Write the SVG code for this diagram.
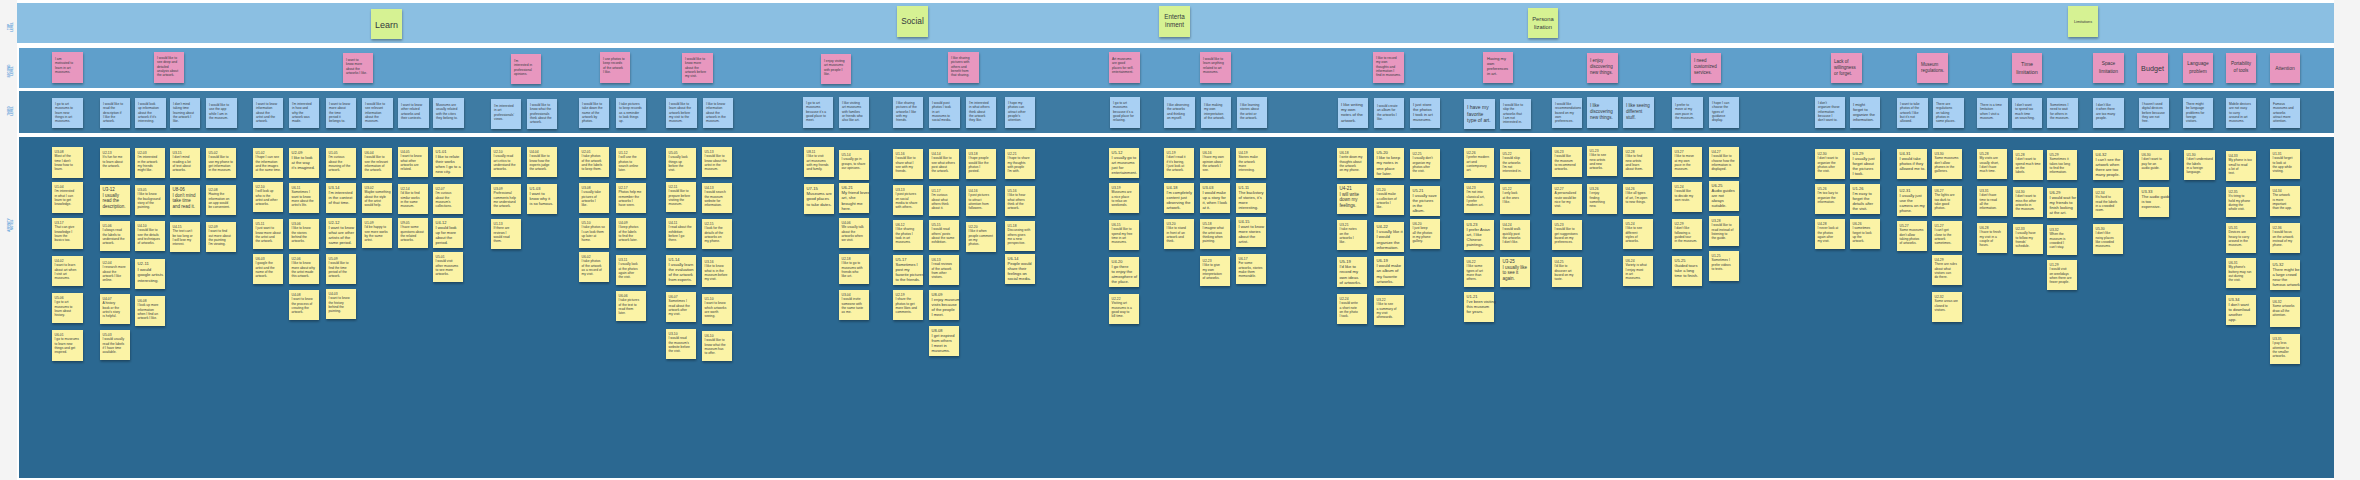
<svg xmlns="http://www.w3.org/2000/svg" width="2360" height="480" viewBox="0 0 2360 480">
<defs>
<filter id="sh" x="-15%" y="-15%" width="140%" height="150%"><feDropShadow dx="0.4" dy="1.6" stdDeviation="0.8" flood-color="#000" flood-opacity="0.35"/></filter>
<style>
.g,.p,.b,.y{filter:url(#sh)}
.g{fill:#d6f293}.p{fill:#e897bf}.b{fill:#a9d0f3}.y{fill:#fbf3a6}
text{font-family:"Liberation Sans",Arial,sans-serif;fill:#33383d}
.t{font-size:3.3px}
.m{font-size:4.5px}
.c{text-anchor:middle}
.lb{font-size:3px;fill:#5fa3da;font-weight:bold;text-anchor:middle}
</style>
</defs>
<rect width="2360" height="480" fill="#f4f4f4"/>
<rect x="17" y="0" width="2317" height="480" fill="#ffffff"/>
<g id="bands">
<rect x="17" y="3" width="2317" height="40" fill="#8bbfe2"/>
<rect x="19" y="48" width="2315" height="40" fill="#5f9fcb"/>
<rect x="19" y="91" width="2315" height="42" fill="#3e7ba3"/>
<rect x="19" y="137" width="2315" height="341" fill="#2b6891"/>
</g>
<g id="labels">
<text class="lb" transform="translate(9.5 27) rotate(-90)"><tspan x="0" y="0">TOP</tspan><tspan x="0" dy="3.4">LEVEL</tspan></text>
<text class="lb" transform="translate(9.5 71) rotate(-90)"><tspan x="0" y="0">SECOND</tspan><tspan x="0" dy="3.4">LEVEL</tspan></text>
<text class="lb" transform="translate(9.5 111) rotate(-90)"><tspan x="0" y="0">THIRD</tspan><tspan x="0" dy="3.4">LEVEL</tspan></text>
<text class="lb" transform="translate(9.5 225) rotate(-90)"><tspan x="0" y="0">AFFINITY</tspan><tspan x="0" dy="3.4">NOTES</tspan></text>
</g>
<g id="connectors"></g>

<!-- TOP LEVEL -->
<g id="top-learn" transform="translate(371 9)"><rect class="g" width="31" height="30"/><text class="c" x="15.5" y="18.5" font-size="9">Learn</text></g>
<g id="top-social" transform="translate(897 6)"><rect class="g" width="31" height="31"/><text class="c" x="15.5" y="18" font-size="8.3">Social</text></g>
<g id="top-entertainment" transform="translate(1159 6)"><rect class="g" width="31" height="31"/><text class="c" font-size="6.3"><tspan x="15.5" y="12.5">Enterta</tspan><tspan x="15.5" dy="8">inment</tspan></text></g>
<g id="top-personalization" transform="translate(1528 8)"><rect class="g" width="30" height="30"/><text class="c" font-size="5.8"><tspan x="15" y="13">Persona</tspan><tspan x="15" dy="8">lization</tspan></text></g>
<g id="top-limitations" transform="translate(2068 6)"><rect class="g" width="30" height="31"/><text class="c" x="15" y="16.5" font-size="3.8">Limitations</text></g>

<!-- SECOND LEVEL -->
<g id="p52" transform="translate(52 52)"><rect class="p" width="31" height="31"/><text class="t"><tspan x="3" y="8">I am</tspan><tspan x="3" dy="4.3">motivated to</tspan><tspan x="3" dy="4.3">learn in art</tspan><tspan x="3" dy="4.3">museums.</tspan></text></g>
<g id="p154" transform="translate(154 52)"><rect class="p" width="30" height="31"/><text class="t"><tspan x="3" y="7">I would like to</tspan><tspan x="3" dy="4.3">see deep and</tspan><tspan x="3" dy="4.3">detailed</tspan><tspan x="3" dy="4.3">analysis about</tspan><tspan x="3" dy="4.3">the artwork.</tspan></text></g>
<g id="p343" transform="translate(343 53)"><rect class="p" width="30" height="30"/><text class="t"><tspan x="3" y="8">I want to</tspan><tspan x="3" dy="4.3">know more</tspan><tspan x="3" dy="4.3">about the</tspan><tspan x="3" dy="4.3">artworks I like.</tspan></text></g>
<g id="p511" transform="translate(511 54)"><rect class="p" width="30" height="30"/><text class="t"><tspan x="3" y="8">I'm</tspan><tspan x="3" dy="4.3">interested in</tspan><tspan x="3" dy="4.3">professional</tspan><tspan x="3" dy="4.3">opinions.</tspan></text></g>
<g id="p600" transform="translate(600 52)"><rect class="p" width="30" height="31"/><text class="t"><tspan x="3" y="8">I use photos to</tspan><tspan x="3" dy="4.3">keep records</tspan><tspan x="3" dy="4.3">of the artwork</tspan><tspan x="3" dy="4.3">I like.</tspan></text></g>
<g id="p682" transform="translate(682 53)"><rect class="p" width="31" height="30"/><text class="t"><tspan x="3" y="7">I would like to</tspan><tspan x="3" dy="4.3">know more</tspan><tspan x="3" dy="4.3">about the</tspan><tspan x="3" dy="4.3">artwork before</tspan><tspan x="3" dy="4.3">my visit.</tspan></text></g>
<g id="p821" transform="translate(821 54)"><rect class="p" width="30" height="30"/><text class="t"><tspan x="3" y="8">I enjoy visiting</tspan><tspan x="3" dy="4.3">art museums</tspan><tspan x="3" dy="4.3">with people I</tspan><tspan x="3" dy="4.3">like.</tspan></text></g>
<g id="p948" transform="translate(948 52)"><rect class="p" width="31" height="31"/><text class="t"><tspan x="3" y="7">I like sharing</tspan><tspan x="3" dy="4.3">pictures with</tspan><tspan x="3" dy="4.3">others and</tspan><tspan x="3" dy="4.3">benefit from</tspan><tspan x="3" dy="4.3">that sharing.</tspan></text></g>
<g id="p1109" transform="translate(1109 52)"><rect class="p" width="31" height="31"/><text class="t"><tspan x="3" y="8">Art museums</tspan><tspan x="3" dy="4.3">are good</tspan><tspan x="3" dy="4.3">places for self-</tspan><tspan x="3" dy="4.3">entertainment.</tspan></text></g>
<g id="p1200" transform="translate(1200 52)"><rect class="p" width="31" height="31"/><text class="t"><tspan x="3" y="8">I would like to</tspan><tspan x="3" dy="4.3">learn anything</tspan><tspan x="3" dy="4.3">related to art</tspan><tspan x="3" dy="4.3">museums.</tspan></text></g>
<g id="p1373" transform="translate(1373 52)"><rect class="p" width="31" height="31"/><text class="t"><tspan x="3" y="7">I like to record</tspan><tspan x="3" dy="4.3">my own</tspan><tspan x="3" dy="4.3">thoughts and</tspan><tspan x="3" dy="4.3">information I</tspan><tspan x="3" dy="4.3">find in museums.</tspan></text></g>
<g id="p1483" transform="translate(1483 52)"><rect class="p" width="30" height="31"/><text font-size="4"><tspan x="4" y="8">Having my</tspan><tspan x="4" dy="5">own</tspan><tspan x="4" dy="5">preferences</tspan><tspan x="4" dy="5">in art.</tspan></text></g>
<g id="p1587" transform="translate(1587 53)"><rect class="p" width="31" height="30"/><text class="m"><tspan x="3" y="9">I enjoy</tspan><tspan x="3" dy="6">discovering</tspan><tspan x="3" dy="6">new things.</tspan></text></g>
<g id="p1691" transform="translate(1691 53)"><rect class="p" width="30" height="30"/><text class="m"><tspan x="3" y="9">I need</tspan><tspan x="3" dy="6">customized</tspan><tspan x="3" dy="6">services.</tspan></text></g>
<g id="p1831" transform="translate(1831 53)"><rect class="p" width="31" height="30"/><text class="m"><tspan x="3" y="10">Lack of</tspan><tspan x="3" dy="6">willingness</tspan><tspan x="3" dy="6">or forget.</tspan></text></g>
<g id="p1917" transform="translate(1917 53)"><rect class="p" width="31" height="30"/><text class="m"><tspan x="4" y="13">Museum</tspan><tspan x="4" dy="6">regulations.</tspan></text></g>
<g id="p2012" transform="translate(2012 53)"><rect class="p" width="30" height="30"/><text class="c" font-size="5.4"><tspan x="15" y="13">Time</tspan><tspan x="15" dy="7.5">limitation</tspan></text></g>
<g id="p2093" transform="translate(2093 53)"><rect class="p" width="31" height="30"/><text class="c" font-size="4.8"><tspan x="15.5" y="12">Space</tspan><tspan x="15.5" dy="7.5">limitation</tspan></text></g>
<g id="p2137" transform="translate(2137 53)"><rect class="p" width="31" height="30"/><text class="c" x="15.5" y="18" font-size="7.2">Budget</text></g>
<g id="p2183" transform="translate(2183 53)"><rect class="p" width="30" height="30"/><text class="c" font-size="4.8"><tspan x="15" y="12">Language</tspan><tspan x="15" dy="7.5">problem</tspan></text></g>
<g id="p2226" transform="translate(2226 53)"><rect class="p" width="30" height="30"/><text class="c" font-size="4.6"><tspan x="15" y="12">Portability</tspan><tspan x="15" dy="7">of tools</tspan></text></g>
<g id="p2270" transform="translate(2270 53)"><rect class="p" width="30" height="30"/><text class="c" x="15" y="17" font-size="4.9">Attention</text></g>

<!-- THIRD LEVEL -->
<g id="b52" transform="translate(52 98)"><rect class="b" width="31" height="30"/><text class="t"><tspan x="3" y="7">I go to art</tspan><tspan x="3" dy="4.3">museums to</tspan><tspan x="3" dy="4.3">learn new</tspan><tspan x="3" dy="4.3">things in art</tspan><tspan x="3" dy="4.3">museums.</tspan></text></g>
<g id="b100" transform="translate(100 98)"><rect class="b" width="30" height="30"/><text class="t"><tspan x="3" y="7">I would like to</tspan><tspan x="3" dy="4.3">read the</tspan><tspan x="3" dy="4.3">description if</tspan><tspan x="3" dy="4.3">I like the</tspan><tspan x="3" dy="4.3">artwork.</tspan></text></g>
<g id="b135" transform="translate(135 98)"><rect class="b" width="31" height="30"/><text class="t"><tspan x="3" y="7">I would look</tspan><tspan x="3" dy="4.3">up information</tspan><tspan x="3" dy="4.3">about the</tspan><tspan x="3" dy="4.3">artwork if it's</tspan><tspan x="3" dy="4.3">interesting.</tspan></text></g>
<g id="b170" transform="translate(170 98)"><rect class="b" width="30" height="30"/><text class="t"><tspan x="3" y="7">I don't mind</tspan><tspan x="3" dy="4.3">taking time</tspan><tspan x="3" dy="4.3">learning about</tspan><tspan x="3" dy="4.3">the artwork I</tspan><tspan x="3" dy="4.3">like.</tspan></text></g>
<g id="b206" transform="translate(206 98)"><rect class="b" width="31" height="30"/><text class="t"><tspan x="3" y="8">I would like to</tspan><tspan x="3" dy="4.3">use the app</tspan><tspan x="3" dy="4.3">while I am in</tspan><tspan x="3" dy="4.3">the museum.</tspan></text></g>
<g id="b253" transform="translate(253 98)"><rect class="b" width="30" height="30"/><text class="t"><tspan x="3" y="7">I want to know</tspan><tspan x="3" dy="4.3">information</tspan><tspan x="3" dy="4.3">about the</tspan><tspan x="3" dy="4.3">artist and the</tspan><tspan x="3" dy="4.3">artwork.</tspan></text></g>
<g id="b289" transform="translate(289 98)"><rect class="b" width="30" height="30"/><text class="t"><tspan x="3" y="7">I'm interested</tspan><tspan x="3" dy="4.3">in how and</tspan><tspan x="3" dy="4.3">why the</tspan><tspan x="3" dy="4.3">artwork was</tspan><tspan x="3" dy="4.3">made.</tspan></text></g>
<g id="b326" transform="translate(326 98)"><rect class="b" width="30" height="30"/><text class="t"><tspan x="3" y="7">I want to know</tspan><tspan x="3" dy="4.3">more about</tspan><tspan x="3" dy="4.3">the time</tspan><tspan x="3" dy="4.3">period it</tspan><tspan x="3" dy="4.3">belongs to.</tspan></text></g>
<g id="b362" transform="translate(362 98)"><rect class="b" width="31" height="30"/><text class="t"><tspan x="3" y="7">I would like to</tspan><tspan x="3" dy="4.3">see relevant</tspan><tspan x="3" dy="4.3">information</tspan><tspan x="3" dy="4.3">about the</tspan><tspan x="3" dy="4.3">museum.</tspan></text></g>
<g id="b398" transform="translate(398 98)"><rect class="b" width="31" height="30"/><text class="t"><tspan x="3" y="8">I want to know</tspan><tspan x="3" dy="4.3">other related</tspan><tspan x="3" dy="4.3">artworks and</tspan><tspan x="3" dy="4.3">their contexts.</tspan></text></g>
<g id="b433" transform="translate(433 98)"><rect class="b" width="31" height="30"/><text class="t"><tspan x="3" y="8">Museums are</tspan><tspan x="3" dy="4.3">usually related</tspan><tspan x="3" dy="4.3">with the cities</tspan><tspan x="3" dy="4.3">they belong to.</tspan></text></g>
<g id="b491" transform="translate(491 99)"><rect class="b" width="30" height="30"/><text class="t"><tspan x="3" y="8">I'm interested</tspan><tspan x="3" dy="4.3">in art</tspan><tspan x="3" dy="4.3">professionals'</tspan><tspan x="3" dy="4.3">views.</tspan></text></g>
<g id="b527" transform="translate(527 99)"><rect class="b" width="30" height="30"/><text class="t"><tspan x="3" y="7">I would like to</tspan><tspan x="3" dy="4.3">know what the</tspan><tspan x="3" dy="4.3">professionals</tspan><tspan x="3" dy="4.3">think about the</tspan><tspan x="3" dy="4.3">artwork.</tspan></text></g>
<g id="b579" transform="translate(579 98)"><rect class="b" width="30" height="30"/><text class="t"><tspan x="3" y="7">I would like to</tspan><tspan x="3" dy="4.3">take down the</tspan><tspan x="3" dy="4.3">name of the</tspan><tspan x="3" dy="4.3">artwork by</tspan><tspan x="3" dy="4.3">photos.</tspan></text></g>
<g id="b616" transform="translate(616 98)"><rect class="b" width="30" height="30"/><text class="t"><tspan x="3" y="7">I take pictures</tspan><tspan x="3" dy="4.3">to keep records</tspan><tspan x="3" dy="4.3">as a reminder</tspan><tspan x="3" dy="4.3">to look things</tspan><tspan x="3" dy="4.3">up.</tspan></text></g>
<g id="b666" transform="translate(666 98)"><rect class="b" width="31" height="30"/><text class="t"><tspan x="3" y="7">I would like to</tspan><tspan x="3" dy="4.3">learn about the</tspan><tspan x="3" dy="4.3">artwork before</tspan><tspan x="3" dy="4.3">my visit to the</tspan><tspan x="3" dy="4.3">museum.</tspan></text></g>
<g id="b703" transform="translate(703 98)"><rect class="b" width="30" height="30"/><text class="t"><tspan x="3" y="7">I like to know</tspan><tspan x="3" dy="4.3">information</tspan><tspan x="3" dy="4.3">about the</tspan><tspan x="3" dy="4.3">artwork in the</tspan><tspan x="3" dy="4.3">museum.</tspan></text></g>
<g id="b803" transform="translate(803 97)"><rect class="b" width="30" height="31"/><text class="t"><tspan x="3" y="7">I go to art</tspan><tspan x="3" dy="4.3">museums</tspan><tspan x="3" dy="4.3">because it's a</tspan><tspan x="3" dy="4.3">good place to</tspan><tspan x="3" dy="4.3">meet.</tspan></text></g>
<g id="b839" transform="translate(839 97)"><rect class="b" width="30" height="31"/><text class="t"><tspan x="3" y="7">I like visiting</tspan><tspan x="3" dy="4.3">art museums</tspan><tspan x="3" dy="4.3">with families</tspan><tspan x="3" dy="4.3">or friends who</tspan><tspan x="3" dy="4.3">also like art.</tspan></text></g>
<g id="b893" transform="translate(893 97)"><rect class="b" width="30" height="31"/><text class="t"><tspan x="3" y="7">I like sharing</tspan><tspan x="3" dy="4.3">pictures of the</tspan><tspan x="3" dy="4.3">artworks I like</tspan><tspan x="3" dy="4.3">with my</tspan><tspan x="3" dy="4.3">friends.</tspan></text></g>
<g id="b929" transform="translate(929 97)"><rect class="b" width="31" height="31"/><text class="t"><tspan x="3" y="7">I would post</tspan><tspan x="3" dy="4.3">photos I took</tspan><tspan x="3" dy="4.3">in art</tspan><tspan x="3" dy="4.3">museums to</tspan><tspan x="3" dy="4.3">social media.</tspan></text></g>
<g id="b966" transform="translate(966 97)"><rect class="b" width="30" height="31"/><text class="t"><tspan x="3" y="7">I'm interested</tspan><tspan x="3" dy="4.3">in what others</tspan><tspan x="3" dy="4.3">think about</tspan><tspan x="3" dy="4.3">the artwork</tspan><tspan x="3" dy="4.3">they like.</tspan></text></g>
<g id="b1005" transform="translate(1005 97)"><rect class="b" width="30" height="31"/><text class="t"><tspan x="3" y="7">I hope my</tspan><tspan x="3" dy="4.3">photos can</tspan><tspan x="3" dy="4.3">attract other</tspan><tspan x="3" dy="4.3">people's</tspan><tspan x="3" dy="4.3">attention.</tspan></text></g>
<g id="b1110" transform="translate(1110 97)"><rect class="b" width="30" height="31"/><text class="t"><tspan x="3" y="7">I go to art</tspan><tspan x="3" dy="4.3">museums</tspan><tspan x="3" dy="4.3">because it's a</tspan><tspan x="3" dy="4.3">good place for</tspan><tspan x="3" dy="4.3">relaxing.</tspan></text></g>
<g id="b1164" transform="translate(1164 97)"><rect class="b" width="31" height="31"/><text class="t"><tspan x="3" y="9">I like observing</tspan><tspan x="3" dy="4.3">the artworks</tspan><tspan x="3" dy="4.3">and thinking</tspan><tspan x="3" dy="4.3">on myself.</tspan></text></g>
<g id="b1201" transform="translate(1201 97)"><rect class="b" width="30" height="31"/><text class="t"><tspan x="3" y="9">I like making</tspan><tspan x="3" dy="4.3">my own</tspan><tspan x="3" dy="4.3">interpretation</tspan><tspan x="3" dy="4.3">of the artwork.</tspan></text></g>
<g id="b1237" transform="translate(1237 97)"><rect class="b" width="30" height="31"/><text class="t"><tspan x="3" y="9">I like learning</tspan><tspan x="3" dy="4.3">stories about</tspan><tspan x="3" dy="4.3">the artist or</tspan><tspan x="3" dy="4.3">the artwork.</tspan></text></g>
<g id="b1338" transform="translate(1338 98)"><rect class="b" width="30" height="30"/><text font-size="4.2"><tspan x="3" y="8">I like writing</tspan><tspan x="3" dy="5.2">my own</tspan><tspan x="3" dy="5.2">notes of the</tspan><tspan x="3" dy="5.2">artwork.</tspan></text></g>
<g id="b1374" transform="translate(1374 98)"><rect class="b" width="30" height="30"/><text class="t"><tspan x="3" y="9">I would create</tspan><tspan x="3" dy="4.3">an album for</tspan><tspan x="3" dy="4.3">the artworks I</tspan><tspan x="3" dy="4.3">like.</tspan></text></g>
<g id="b1410" transform="translate(1410 98)"><rect class="b" width="30" height="30"/><text font-size="4"><tspan x="3" y="8">I just store</tspan><tspan x="3" dy="5">the photos</tspan><tspan x="3" dy="5">I took in art</tspan><tspan x="3" dy="5">museums.</tspan></text></g>
<g id="b1464" transform="translate(1464 99)"><rect class="b" width="31" height="30"/><text font-size="5"><tspan x="3" y="10">I have my</tspan><tspan x="3" dy="6.5">favorite</tspan><tspan x="3" dy="6.5">type of art.</tspan></text></g>
<g id="b1500" transform="translate(1500 99)"><rect class="b" width="31" height="30"/><text class="t"><tspan x="3" y="7">I would like to</tspan><tspan x="3" dy="4.3">skip the</tspan><tspan x="3" dy="4.3">artworks that</tspan><tspan x="3" dy="4.3">I am not</tspan><tspan x="3" dy="4.3">interested in.</tspan></text></g>
<g id="b1552" transform="translate(1552 98)"><rect class="b" width="30" height="30"/><text class="t"><tspan x="3" y="7">I would like</tspan><tspan x="3" dy="4.3">recommendations</tspan><tspan x="3" dy="4.3">based on my</tspan><tspan x="3" dy="4.3">own</tspan><tspan x="3" dy="4.3">preferences.</tspan></text></g>
<g id="b1587" transform="translate(1587 97)"><rect class="b" width="31" height="31"/><text class="m"><tspan x="3" y="10">I like</tspan><tspan x="3" dy="6">discovering</tspan><tspan x="3" dy="6">new things.</tspan></text></g>
<g id="b1623" transform="translate(1623 97)"><rect class="b" width="31" height="31"/><text class="m"><tspan x="3" y="10">I like seeing</tspan><tspan x="3" dy="6">different</tspan><tspan x="3" dy="6">stuff.</tspan></text></g>
<g id="b1672" transform="translate(1672 97)"><rect class="b" width="31" height="31"/><text class="t"><tspan x="3" y="9">I prefer to</tspan><tspan x="3" dy="4.3">move at my</tspan><tspan x="3" dy="4.3">own pace in</tspan><tspan x="3" dy="4.3">the museum.</tspan></text></g>
<g id="b1709" transform="translate(1709 97)"><rect class="b" width="30" height="31"/><text class="t"><tspan x="3" y="7">I hope I can</tspan><tspan x="3" dy="4.3">choose the</tspan><tspan x="3" dy="4.3">types of</tspan><tspan x="3" dy="4.3">guidance</tspan><tspan x="3" dy="4.3">display.</tspan></text></g>
<g id="b1815" transform="translate(1815 97)"><rect class="b" width="30" height="31"/><text class="t"><tspan x="3" y="7">I don't</tspan><tspan x="3" dy="4.3">organize those</tspan><tspan x="3" dy="4.3">information</tspan><tspan x="3" dy="4.3">because I</tspan><tspan x="3" dy="4.3">don't want to.</tspan></text></g>
<g id="b1850" transform="translate(1850 97)"><rect class="b" width="30" height="31"/><text font-size="4"><tspan x="3" y="9">I might</tspan><tspan x="3" dy="5">forget to</tspan><tspan x="3" dy="5">organize the</tspan><tspan x="3" dy="5">information.</tspan></text></g>
<g id="b1897" transform="translate(1897 98)"><rect class="b" width="31" height="30"/><text class="t"><tspan x="3" y="7">I want to take</tspan><tspan x="3" dy="4.3">photos of the</tspan><tspan x="3" dy="4.3">artwork I like</tspan><tspan x="3" dy="4.3">but it's not</tspan><tspan x="3" dy="4.3">allowed.</tspan></text></g>
<g id="b1933" transform="translate(1933 98)"><rect class="b" width="31" height="30"/><text class="t"><tspan x="3" y="7">There are</tspan><tspan x="3" dy="4.3">regulations</tspan><tspan x="3" dy="4.3">on taking</tspan><tspan x="3" dy="4.3">photos in</tspan><tspan x="3" dy="4.3">some places.</tspan></text></g>
<g id="b1977" transform="translate(1977 98)"><rect class="b" width="31" height="30"/><text class="t"><tspan x="3" y="8">There is a time</tspan><tspan x="3" dy="4.3">limitation</tspan><tspan x="3" dy="4.3">when I visit a</tspan><tspan x="3" dy="4.3">museum.</tspan></text></g>
<g id="b2012" transform="translate(2012 98)"><rect class="b" width="30" height="30"/><text class="t"><tspan x="3" y="8">I don't want</tspan><tspan x="3" dy="4.3">to spend too</tspan><tspan x="3" dy="4.3">much time</tspan><tspan x="3" dy="4.3">on searching.</tspan></text></g>
<g id="b2047" transform="translate(2047 98)"><rect class="b" width="31" height="30"/><text class="t"><tspan x="3" y="8">Sometimes I</tspan><tspan x="3" dy="4.3">need to wait</tspan><tspan x="3" dy="4.3">for others in</tspan><tspan x="3" dy="4.3">the museum.</tspan></text></g>
<g id="b2093" transform="translate(2093 98)"><rect class="b" width="31" height="30"/><text class="t"><tspan x="3" y="8">I don't like</tspan><tspan x="3" dy="4.3">it when there</tspan><tspan x="3" dy="4.3">are too many</tspan><tspan x="3" dy="4.3">people.</tspan></text></g>
<g id="b2139" transform="translate(2139 98)"><rect class="b" width="30" height="30"/><text class="t"><tspan x="3" y="7">I haven't used</tspan><tspan x="3" dy="4.3">digital devices</tspan><tspan x="3" dy="4.3">before because</tspan><tspan x="3" dy="4.3">they are not</tspan><tspan x="3" dy="4.3">free.</tspan></text></g>
<g id="b2183" transform="translate(2183 98)"><rect class="b" width="30" height="30"/><text class="t"><tspan x="3" y="7">There might</tspan><tspan x="3" dy="4.3">be language</tspan><tspan x="3" dy="4.3">problems for</tspan><tspan x="3" dy="4.3">foreign</tspan><tspan x="3" dy="4.3">visitors.</tspan></text></g>
<g id="b2226" transform="translate(2226 98)"><rect class="b" width="30" height="30"/><text class="t"><tspan x="3" y="7">Mobile devices</tspan><tspan x="3" dy="4.3">are not easy</tspan><tspan x="3" dy="4.3">to carry</tspan><tspan x="3" dy="4.3">around in art</tspan><tspan x="3" dy="4.3">museums.</tspan></text></g>
<g id="b2270" transform="translate(2270 98)"><rect class="b" width="30" height="30"/><text class="t"><tspan x="3" y="7">Famous</tspan><tspan x="3" dy="4.3">museums and</tspan><tspan x="3" dy="4.3">artworks</tspan><tspan x="3" dy="4.3">attract more</tspan><tspan x="3" dy="4.3">attention.</tspan></text></g>

<!-- AFFINITY NOTES -->
<g id="y52a" transform="translate(52 147)"><rect class="y" width="31" height="31"/><text class="t"><tspan x="2.5" y="6">U3-08</tspan><tspan x="2.5" dy="4.3">Most of the</tspan><tspan x="2.5" dy="4.3">time I don't</tspan><tspan x="2.5" dy="4.3">know how to</tspan><tspan x="2.5" dy="4.3">learn.</tspan></text></g>
<g id="y52b" transform="translate(52 182)"><rect class="y" width="31" height="31"/><text class="t"><tspan x="2.5" y="6">U1-04</tspan><tspan x="2.5" dy="4.3">I'm interested</tspan><tspan x="2.5" dy="4.3">in what I can</tspan><tspan x="2.5" dy="4.3">learn to get</tspan><tspan x="2.5" dy="4.3">knowledge.</tspan></text></g>
<g id="y52c" transform="translate(52 218)"><rect class="y" width="31" height="31"/><text class="t"><tspan x="2.5" y="6">U3-17</tspan><tspan x="2.5" dy="4.3">That can give</tspan><tspan x="2.5" dy="4.3">knowledge I</tspan><tspan x="2.5" dy="4.3">learn the</tspan><tspan x="2.5" dy="4.3">basics too.</tspan></text></g>
<g id="y52d" transform="translate(52 256)"><rect class="y" width="31" height="30"/><text class="t"><tspan x="2.5" y="6">U4-02</tspan><tspan x="2.5" dy="4.3">I want to learn</tspan><tspan x="2.5" dy="4.3">about art when</tspan><tspan x="2.5" dy="4.3">I visit art</tspan><tspan x="2.5" dy="4.3">museums.</tspan></text></g>
<g id="y52e" transform="translate(52 293)"><rect class="y" width="31" height="30"/><text class="t"><tspan x="2.5" y="6">U5-06</tspan><tspan x="2.5" dy="4.3">I go to art</tspan><tspan x="2.5" dy="4.3">museums to</tspan><tspan x="2.5" dy="4.3">learn about</tspan><tspan x="2.5" dy="4.3">history.</tspan></text></g>
<g id="y52f" transform="translate(52 330)"><rect class="y" width="31" height="31"/><text class="t"><tspan x="2.5" y="6">U6-01</tspan><tspan x="2.5" dy="4.3">I go to museums</tspan><tspan x="2.5" dy="4.3">to learn new</tspan><tspan x="2.5" dy="4.3">things and get</tspan><tspan x="2.5" dy="4.3">inspired.</tspan></text></g>
<g id="y100a" transform="translate(100 148)"><rect class="y" width="30" height="30"/><text class="t"><tspan x="2.5" y="6">U2-13</tspan><tspan x="2.5" dy="4.3">It's fun for me</tspan><tspan x="2.5" dy="4.3">to learn about</tspan><tspan x="2.5" dy="4.3">the artwork.</tspan></text></g>
<g id="y100b" transform="translate(100 185)"><rect class="y" width="30" height="30"/><text font-size="4.5"><tspan x="2.5" y="6">U3-12</tspan><tspan x="2.5" dy="5.5">I usually</tspan><tspan x="2.5" dy="5.5">read the</tspan><tspan x="2.5" dy="5.5">description.</tspan></text></g>
<g id="y100c" transform="translate(100 221)"><rect class="y" width="30" height="30"/><text class="t"><tspan x="2.5" y="6">U1-06</tspan><tspan x="2.5" dy="4.3">I always read</tspan><tspan x="2.5" dy="4.3">the labels to</tspan><tspan x="2.5" dy="4.3">understand the</tspan><tspan x="2.5" dy="4.3">artwork.</tspan></text></g>
<g id="y100d" transform="translate(100 258)"><rect class="y" width="30" height="30"/><text class="t"><tspan x="2.5" y="6">U2-04</tspan><tspan x="2.5" dy="4.3">I research more</tspan><tspan x="2.5" dy="4.3">about the</tspan><tspan x="2.5" dy="4.3">artwork I like</tspan><tspan x="2.5" dy="4.3">online.</tspan></text></g>
<g id="y100e" transform="translate(100 294)"><rect class="y" width="30" height="30"/><text class="t"><tspan x="2.5" y="6">U4-07</tspan><tspan x="2.5" dy="4.3">A history</tspan><tspan x="2.5" dy="4.3">book or the</tspan><tspan x="2.5" dy="4.3">artist's story</tspan><tspan x="2.5" dy="4.3">is helpful.</tspan></text></g>
<g id="y100f" transform="translate(100 330)"><rect class="y" width="30" height="30"/><text class="t"><tspan x="2.5" y="6">U5-03</tspan><tspan x="2.5" dy="4.3">I would usually</tspan><tspan x="2.5" dy="4.3">read the labels</tspan><tspan x="2.5" dy="4.3">if I have time</tspan><tspan x="2.5" dy="4.3">available.</tspan></text></g>
<g id="y135a" transform="translate(135 148)"><rect class="y" width="30" height="30"/><text class="t"><tspan x="2.5" y="6">U2-03</tspan><tspan x="2.5" dy="4.3">I'm interested</tspan><tspan x="2.5" dy="4.3">in the artwork</tspan><tspan x="2.5" dy="4.3">my friends</tspan><tspan x="2.5" dy="4.3">might like.</tspan></text></g>
<g id="y135b" transform="translate(135 185)"><rect class="y" width="30" height="30"/><text class="t"><tspan x="2.5" y="6">U3-05</tspan><tspan x="2.5" dy="4.3">I like to know</tspan><tspan x="2.5" dy="4.3">the background</tspan><tspan x="2.5" dy="4.3">story of the</tspan><tspan x="2.5" dy="4.3">painting.</tspan></text></g>
<g id="y135c" transform="translate(135 221)"><rect class="y" width="30" height="30"/><text class="t"><tspan x="2.5" y="6">U4-10</tspan><tspan x="2.5" dy="4.3">I would like to</tspan><tspan x="2.5" dy="4.3">see the details</tspan><tspan x="2.5" dy="4.3">and techniques</tspan><tspan x="2.5" dy="4.3">of artworks.</tspan></text></g>
<g id="y135d" transform="translate(135 259)"><rect class="y" width="30" height="30"/><text font-size="4.3"><tspan x="2.5" y="6">U2-11</tspan><tspan x="2.5" dy="5.5">I would</tspan><tspan x="2.5" dy="5.5">google artists</tspan><tspan x="2.5" dy="5.5">interesting.</tspan></text></g>
<g id="y135e" transform="translate(135 296)"><rect class="y" width="30" height="30"/><text class="t"><tspan x="2.5" y="6">U6-08</tspan><tspan x="2.5" dy="4.3">I look up more</tspan><tspan x="2.5" dy="4.3">information</tspan><tspan x="2.5" dy="4.3">when I find an</tspan><tspan x="2.5" dy="4.3">artwork I like.</tspan></text></g>
<g id="y170a" transform="translate(170 148)"><rect class="y" width="30" height="30"/><text class="t"><tspan x="2.5" y="6">U3-15</tspan><tspan x="2.5" dy="4.3">I don't mind</tspan><tspan x="2.5" dy="4.3">reading a lot</tspan><tspan x="2.5" dy="4.3">of text about</tspan><tspan x="2.5" dy="4.3">artworks.</tspan></text></g>
<g id="y170b" transform="translate(170 185)"><rect class="y" width="30" height="30"/><text font-size="4.5"><tspan x="2.5" y="6">U8-06</tspan><tspan x="2.5" dy="5.5">I don't mind</tspan><tspan x="2.5" dy="5.5">take time</tspan><tspan x="2.5" dy="5.5">and read it.</tspan></text></g>
<g id="y170c" transform="translate(170 222)"><rect class="y" width="30" height="30"/><text class="t"><tspan x="2.5" y="6">U4-15</tspan><tspan x="2.5" dy="4.3">The text can't</tspan><tspan x="2.5" dy="4.3">be too long or</tspan><tspan x="2.5" dy="4.3">I will lose my</tspan><tspan x="2.5" dy="4.3">interest.</tspan></text></g>
<g id="y206a" transform="translate(206 148)"><rect class="y" width="30" height="30"/><text class="t"><tspan x="2.5" y="6">U5-02</tspan><tspan x="2.5" dy="4.3">I would like to</tspan><tspan x="2.5" dy="4.3">use my phone to</tspan><tspan x="2.5" dy="4.3">get information</tspan><tspan x="2.5" dy="4.3">in the museum.</tspan></text></g>
<g id="y206b" transform="translate(206 185)"><rect class="y" width="30" height="30"/><text class="t"><tspan x="2.5" y="6">U2-08</tspan><tspan x="2.5" dy="4.3">Having the</tspan><tspan x="2.5" dy="4.3">information on</tspan><tspan x="2.5" dy="4.3">an app would</tspan><tspan x="2.5" dy="4.3">be convenient.</tspan></text></g>
<g id="y206c" transform="translate(206 222)"><rect class="y" width="30" height="30"/><text class="t"><tspan x="2.5" y="6">U2-09</tspan><tspan x="2.5" dy="4.3">I want to find</tspan><tspan x="2.5" dy="4.3">out more about</tspan><tspan x="2.5" dy="4.3">the painting</tspan><tspan x="2.5" dy="4.3">I'm viewing.</tspan></text></g>
<g id="y253a" transform="translate(253 148)"><rect class="y" width="30" height="30"/><text class="t"><tspan x="2.5" y="6">U1-02</tspan><tspan x="2.5" dy="4.3">I hope I can see</tspan><tspan x="2.5" dy="4.3">the information</tspan><tspan x="2.5" dy="4.3">and the images</tspan><tspan x="2.5" dy="4.3">at the same time.</tspan></text></g>
<g id="y253b" transform="translate(253 182)"><rect class="y" width="30" height="30"/><text class="t"><tspan x="2.5" y="6">U2-10</tspan><tspan x="2.5" dy="4.3">I will look up</tspan><tspan x="2.5" dy="4.3">who is the</tspan><tspan x="2.5" dy="4.3">artist and other</tspan><tspan x="2.5" dy="4.3">artworks.</tspan></text></g>
<g id="y253c" transform="translate(253 219)"><rect class="y" width="30" height="30"/><text class="t"><tspan x="2.5" y="6">U5-11</tspan><tspan x="2.5" dy="4.3">I just want to</tspan><tspan x="2.5" dy="4.3">know more about</tspan><tspan x="2.5" dy="4.3">the artist and</tspan><tspan x="2.5" dy="4.3">the artwork.</tspan></text></g>
<g id="y253d" transform="translate(253 254)"><rect class="y" width="30" height="30"/><text class="t"><tspan x="2.5" y="6">U6-03</tspan><tspan x="2.5" dy="4.3">I google the</tspan><tspan x="2.5" dy="4.3">artist and the</tspan><tspan x="2.5" dy="4.3">name of the</tspan><tspan x="2.5" dy="4.3">artwork.</tspan></text></g>
<g id="y289a" transform="translate(289 148)"><rect class="y" width="30" height="30"/><text font-size="4"><tspan x="2.5" y="6">U2-09</tspan><tspan x="2.5" dy="5">I like to look</tspan><tspan x="2.5" dy="5">at the way</tspan><tspan x="2.5" dy="5">it's imagined.</tspan></text></g>
<g id="y289b" transform="translate(289 183)"><rect class="y" width="30" height="30"/><text class="t"><tspan x="2.5" y="6">U6-11</tspan><tspan x="2.5" dy="4.3">Sometimes I</tspan><tspan x="2.5" dy="4.3">want to know</tspan><tspan x="2.5" dy="4.3">more about the</tspan><tspan x="2.5" dy="4.3">artist's life.</tspan></text></g>
<g id="y289c" transform="translate(289 219)"><rect class="y" width="30" height="30"/><text class="t"><tspan x="2.5" y="6">U3-06</tspan><tspan x="2.5" dy="4.3">I like to know</tspan><tspan x="2.5" dy="4.3">the stories</tspan><tspan x="2.5" dy="4.3">behind the</tspan><tspan x="2.5" dy="4.3">artworks.</tspan></text></g>
<g id="y289d" transform="translate(289 254)"><rect class="y" width="30" height="30"/><text class="t"><tspan x="2.5" y="6">U2-06</tspan><tspan x="2.5" dy="4.3">I like to know</tspan><tspan x="2.5" dy="4.3">more about why</tspan><tspan x="2.5" dy="4.3">the artist made</tspan><tspan x="2.5" dy="4.3">this artwork.</tspan></text></g>
<g id="y289e" transform="translate(289 290)"><rect class="y" width="30" height="30"/><text class="t"><tspan x="2.5" y="6">U4-08</tspan><tspan x="2.5" dy="4.3">I want to know</tspan><tspan x="2.5" dy="4.3">the process of</tspan><tspan x="2.5" dy="4.3">creating the</tspan><tspan x="2.5" dy="4.3">artwork.</tspan></text></g>
<g id="y326a" transform="translate(326 148)"><rect class="y" width="30" height="30"/><text class="t"><tspan x="2.5" y="6">U1-05</tspan><tspan x="2.5" dy="4.3">I'm curious</tspan><tspan x="2.5" dy="4.3">about the</tspan><tspan x="2.5" dy="4.3">meaning of the</tspan><tspan x="2.5" dy="4.3">artwork.</tspan></text></g>
<g id="y326b" transform="translate(326 183)"><rect class="y" width="30" height="30"/><text font-size="4"><tspan x="2.5" y="6">U3-14</tspan><tspan x="2.5" dy="5">I'm interested</tspan><tspan x="2.5" dy="5">in the context</tspan><tspan x="2.5" dy="5">of that time.</tspan></text></g>
<g id="y326c" transform="translate(326 218)"><rect class="y" width="30" height="30"/><text font-size="4"><tspan x="2.5" y="6">U2-12</tspan><tspan x="2.5" dy="5">I want to know</tspan><tspan x="2.5" dy="5">what are other</tspan><tspan x="2.5" dy="5">artists of the</tspan><tspan x="2.5" dy="5">same period.</tspan></text></g>
<g id="y326d" transform="translate(326 254)"><rect class="y" width="30" height="30"/><text class="t"><tspan x="2.5" y="6">U5-09</tspan><tspan x="2.5" dy="4.3">I would like to</tspan><tspan x="2.5" dy="4.3">find the time</tspan><tspan x="2.5" dy="4.3">period of the</tspan><tspan x="2.5" dy="4.3">artwork.</tspan></text></g>
<g id="y326e" transform="translate(326 289)"><rect class="y" width="30" height="30"/><text class="t"><tspan x="2.5" y="6">U4-03</tspan><tspan x="2.5" dy="4.3">I want to know</tspan><tspan x="2.5" dy="4.3">the history</tspan><tspan x="2.5" dy="4.3">behind the</tspan><tspan x="2.5" dy="4.3">painting.</tspan></text></g>
<g id="y362a" transform="translate(362 148)"><rect class="y" width="30" height="30"/><text class="t"><tspan x="2.5" y="6">U6-04</tspan><tspan x="2.5" dy="4.3">I would like to</tspan><tspan x="2.5" dy="4.3">see the relevant</tspan><tspan x="2.5" dy="4.3">information of</tspan><tspan x="2.5" dy="4.3">the artwork.</tspan></text></g>
<g id="y362b" transform="translate(362 183)"><rect class="y" width="30" height="30"/><text class="t"><tspan x="2.5" y="6">U3-02</tspan><tspan x="2.5" dy="4.3">Maybe something</tspan><tspan x="2.5" dy="4.3">about the style</tspan><tspan x="2.5" dy="4.3">of the artist</tspan><tspan x="2.5" dy="4.3">would help.</tspan></text></g>
<g id="y362c" transform="translate(362 218)"><rect class="y" width="30" height="30"/><text class="t"><tspan x="2.5" y="6">U1-09</tspan><tspan x="2.5" dy="4.3">I'd be happy to</tspan><tspan x="2.5" dy="4.3">see more works</tspan><tspan x="2.5" dy="4.3">by the same</tspan><tspan x="2.5" dy="4.3">artist.</tspan></text></g>
<g id="y398a" transform="translate(398 147)"><rect class="y" width="30" height="30"/><text class="t"><tspan x="2.5" y="6">U4-05</tspan><tspan x="2.5" dy="4.3">I want to know</tspan><tspan x="2.5" dy="4.3">what other</tspan><tspan x="2.5" dy="4.3">artworks are</tspan><tspan x="2.5" dy="4.3">related.</tspan></text></g>
<g id="y398b" transform="translate(398 184)"><rect class="y" width="30" height="30"/><text class="t"><tspan x="2.5" y="6">U2-14</tspan><tspan x="2.5" dy="4.3">I'd like to find</tspan><tspan x="2.5" dy="4.3">similar works</tspan><tspan x="2.5" dy="4.3">in the same</tspan><tspan x="2.5" dy="4.3">museum.</tspan></text></g>
<g id="y398c" transform="translate(398 218)"><rect class="y" width="30" height="30"/><text class="t"><tspan x="2.5" y="6">U9-05</tspan><tspan x="2.5" dy="4.3">I have some</tspan><tspan x="2.5" dy="4.3">questions about</tspan><tspan x="2.5" dy="4.3">the related</tspan><tspan x="2.5" dy="4.3">artworks.</tspan></text></g>
<g id="y433a" transform="translate(433 147)"><rect class="y" width="30" height="30"/><text font-size="4"><tspan x="2.5" y="6">U1-01</tspan><tspan x="2.5" dy="5">I like to relate</tspan><tspan x="2.5" dy="5">their works</tspan><tspan x="2.5" dy="5">when I go to a</tspan><tspan x="2.5" dy="5">new city.</tspan></text></g>
<g id="y433b" transform="translate(433 184)"><rect class="y" width="30" height="30"/><text class="t"><tspan x="2.5" y="6">U2-07</tspan><tspan x="2.5" dy="4.3">I'm curious</tspan><tspan x="2.5" dy="4.3">about the</tspan><tspan x="2.5" dy="4.3">museum's</tspan><tspan x="2.5" dy="4.3">collections.</tspan></text></g>
<g id="y433c" transform="translate(433 218)"><rect class="y" width="30" height="30"/><text font-size="4"><tspan x="2.5" y="6">U4-12</tspan><tspan x="2.5" dy="5">I would look</tspan><tspan x="2.5" dy="5">up for more</tspan><tspan x="2.5" dy="5">about the</tspan><tspan x="2.5" dy="5">period.</tspan></text></g>
<g id="y433d" transform="translate(433 252)"><rect class="y" width="30" height="30"/><text class="t"><tspan x="2.5" y="6">U5-01</tspan><tspan x="2.5" dy="4.3">I would visit</tspan><tspan x="2.5" dy="4.3">other museums</tspan><tspan x="2.5" dy="4.3">to see more</tspan><tspan x="2.5" dy="4.3">artworks.</tspan></text></g>
<g id="y491a" transform="translate(491 147)"><rect class="y" width="30" height="30"/><text class="t"><tspan x="2.5" y="6">U2-10</tspan><tspan x="2.5" dy="4.3">I usually read</tspan><tspan x="2.5" dy="4.3">art critics to</tspan><tspan x="2.5" dy="4.3">understand the</tspan><tspan x="2.5" dy="4.3">artworks.</tspan></text></g>
<g id="y491b" transform="translate(491 184)"><rect class="y" width="30" height="30"/><text class="t"><tspan x="2.5" y="6">U3-09</tspan><tspan x="2.5" dy="4.3">Professional</tspan><tspan x="2.5" dy="4.3">comments help</tspan><tspan x="2.5" dy="4.3">me understand</tspan><tspan x="2.5" dy="4.3">the artwork.</tspan></text></g>
<g id="y491c" transform="translate(491 219)"><rect class="y" width="30" height="30"/><text class="t"><tspan x="2.5" y="6">U1-13</tspan><tspan x="2.5" dy="4.3">If there are</tspan><tspan x="2.5" dy="4.3">reviews I</tspan><tspan x="2.5" dy="4.3">would read</tspan><tspan x="2.5" dy="4.3">them.</tspan></text></g>
<g id="y527a" transform="translate(527 147)"><rect class="y" width="30" height="30"/><text class="t"><tspan x="2.5" y="6">U4-04</tspan><tspan x="2.5" dy="4.3">I would like to</tspan><tspan x="2.5" dy="4.3">know how the</tspan><tspan x="2.5" dy="4.3">experts judge</tspan><tspan x="2.5" dy="4.3">the artwork.</tspan></text></g>
<g id="y527b" transform="translate(527 184)"><rect class="y" width="30" height="30"/><text font-size="4"><tspan x="2.5" y="6">U1-03</tspan><tspan x="2.5" dy="5">I want to</tspan><tspan x="2.5" dy="5">know why it</tspan><tspan x="2.5" dy="5">is so famous.</tspan></text></g>
<g id="y579a" transform="translate(579 147)"><rect class="y" width="30" height="30"/><text class="t"><tspan x="2.5" y="6">U2-01</tspan><tspan x="2.5" dy="4.3">I take photos</tspan><tspan x="2.5" dy="4.3">of the artwork</tspan><tspan x="2.5" dy="4.3">and the labels</tspan><tspan x="2.5" dy="4.3">to keep them.</tspan></text></g>
<g id="y579b" transform="translate(579 183)"><rect class="y" width="30" height="30"/><text class="t"><tspan x="2.5" y="6">U3-08</tspan><tspan x="2.5" dy="4.3">I usually take</tspan><tspan x="2.5" dy="4.3">pictures of</tspan><tspan x="2.5" dy="4.3">artworks I</tspan><tspan x="2.5" dy="4.3">like.</tspan></text></g>
<g id="y579c" transform="translate(579 218)"><rect class="y" width="30" height="30"/><text class="t"><tspan x="2.5" y="6">U5-10</tspan><tspan x="2.5" dy="4.3">I take photos so</tspan><tspan x="2.5" dy="4.3">I can look them</tspan><tspan x="2.5" dy="4.3">up later at</tspan><tspan x="2.5" dy="4.3">home.</tspan></text></g>
<g id="y579d" transform="translate(579 252)"><rect class="y" width="30" height="30"/><text class="t"><tspan x="2.5" y="6">U6-02</tspan><tspan x="2.5" dy="4.3">I take photos</tspan><tspan x="2.5" dy="4.3">of the artwork</tspan><tspan x="2.5" dy="4.3">as a record of</tspan><tspan x="2.5" dy="4.3">my visit.</tspan></text></g>
<g id="y616a" transform="translate(616 148)"><rect class="y" width="30" height="30"/><text class="t"><tspan x="2.5" y="6">U1-12</tspan><tspan x="2.5" dy="4.3">I will use the</tspan><tspan x="2.5" dy="4.3">photos to</tspan><tspan x="2.5" dy="4.3">search online</tspan><tspan x="2.5" dy="4.3">later.</tspan></text></g>
<g id="y616b" transform="translate(616 183)"><rect class="y" width="30" height="30"/><text class="t"><tspan x="2.5" y="6">U2-17</tspan><tspan x="2.5" dy="4.3">Photos help me</tspan><tspan x="2.5" dy="4.3">remember the</tspan><tspan x="2.5" dy="4.3">artworks I</tspan><tspan x="2.5" dy="4.3">have seen.</tspan></text></g>
<g id="y616c" transform="translate(616 218)"><rect class="y" width="30" height="30"/><text class="t"><tspan x="2.5" y="6">U4-09</tspan><tspan x="2.5" dy="4.3">I keep photos</tspan><tspan x="2.5" dy="4.3">of the labels</tspan><tspan x="2.5" dy="4.3">to find the</tspan><tspan x="2.5" dy="4.3">artwork later.</tspan></text></g>
<g id="y616d" transform="translate(616 255)"><rect class="y" width="30" height="30"/><text class="t"><tspan x="2.5" y="6">U3-11</tspan><tspan x="2.5" dy="4.3">I usually look</tspan><tspan x="2.5" dy="4.3">at the photos</tspan><tspan x="2.5" dy="4.3">again after</tspan><tspan x="2.5" dy="4.3">the visit.</tspan></text></g>
<g id="y616e" transform="translate(616 291)"><rect class="y" width="30" height="30"/><text class="t"><tspan x="2.5" y="6">U6-06</tspan><tspan x="2.5" dy="4.3">I take pictures</tspan><tspan x="2.5" dy="4.3">of the text to</tspan><tspan x="2.5" dy="4.3">read them</tspan><tspan x="2.5" dy="4.3">later.</tspan></text></g>
<g id="y666a" transform="translate(666 148)"><rect class="y" width="30" height="30"/><text class="t"><tspan x="2.5" y="6">U5-05</tspan><tspan x="2.5" dy="4.3">I usually look</tspan><tspan x="2.5" dy="4.3">things up</tspan><tspan x="2.5" dy="4.3">before the</tspan><tspan x="2.5" dy="4.3">visit.</tspan></text></g>
<g id="y666b" transform="translate(666 182)"><rect class="y" width="30" height="30"/><text class="t"><tspan x="2.5" y="6">U2-11</tspan><tspan x="2.5" dy="4.3">I would like to</tspan><tspan x="2.5" dy="4.3">prepare before</tspan><tspan x="2.5" dy="4.3">visiting the</tspan><tspan x="2.5" dy="4.3">museum.</tspan></text></g>
<g id="y666c" transform="translate(666 218)"><rect class="y" width="30" height="30"/><text class="t"><tspan x="2.5" y="6">U4-11</tspan><tspan x="2.5" dy="4.3">I read about the</tspan><tspan x="2.5" dy="4.3">exhibition</tspan><tspan x="2.5" dy="4.3">before I go</tspan><tspan x="2.5" dy="4.3">there.</tspan></text></g>
<g id="y666d" transform="translate(666 255)"><rect class="y" width="30" height="30"/><text font-size="4"><tspan x="2.5" y="6">U1-14</tspan><tspan x="2.5" dy="5">I usually learn</tspan><tspan x="2.5" dy="5">the evaluation</tspan><tspan x="2.5" dy="5">of the artwork</tspan><tspan x="2.5" dy="5">from experts.</tspan></text></g>
<g id="y666e" transform="translate(666 292)"><rect class="y" width="30" height="30"/><text class="t"><tspan x="2.5" y="6">U6-07</tspan><tspan x="2.5" dy="4.3">Sometimes I</tspan><tspan x="2.5" dy="4.3">read about the</tspan><tspan x="2.5" dy="4.3">artwork after</tspan><tspan x="2.5" dy="4.3">my visit.</tspan></text></g>
<g id="y666f" transform="translate(666 329)"><rect class="y" width="30" height="30"/><text class="t"><tspan x="2.5" y="6">U3-10</tspan><tspan x="2.5" dy="4.3">I would read</tspan><tspan x="2.5" dy="4.3">the museum's</tspan><tspan x="2.5" dy="4.3">website before</tspan><tspan x="2.5" dy="4.3">the visit.</tspan></text></g>
<g id="y702a" transform="translate(702 147)"><rect class="y" width="30" height="30"/><text class="t"><tspan x="2.5" y="6">U5-13</tspan><tspan x="2.5" dy="4.3">I would like to</tspan><tspan x="2.5" dy="4.3">know about the</tspan><tspan x="2.5" dy="4.3">artist in the</tspan><tspan x="2.5" dy="4.3">museum.</tspan></text></g>
<g id="y702b" transform="translate(702 183)"><rect class="y" width="30" height="30"/><text class="t"><tspan x="2.5" y="6">U4-13</tspan><tspan x="2.5" dy="4.3">I would search</tspan><tspan x="2.5" dy="4.3">the museum</tspan><tspan x="2.5" dy="4.3">website for</tspan><tspan x="2.5" dy="4.3">information.</tspan></text></g>
<g id="y702c" transform="translate(702 219)"><rect class="y" width="30" height="30"/><text class="t"><tspan x="2.5" y="6">U2-15</tspan><tspan x="2.5" dy="4.3">I look for the</tspan><tspan x="2.5" dy="4.3">details of the</tspan><tspan x="2.5" dy="4.3">artworks on</tspan><tspan x="2.5" dy="4.3">my phone.</tspan></text></g>
<g id="y702d" transform="translate(702 257)"><rect class="y" width="30" height="30"/><text class="t"><tspan x="2.5" y="6">U3-16</tspan><tspan x="2.5" dy="4.3">I like to know</tspan><tspan x="2.5" dy="4.3">what is in the</tspan><tspan x="2.5" dy="4.3">museum before</tspan><tspan x="2.5" dy="4.3">my visit.</tspan></text></g>
<g id="y702e" transform="translate(702 294)"><rect class="y" width="30" height="30"/><text class="t"><tspan x="2.5" y="6">U1-10</tspan><tspan x="2.5" dy="4.3">I want to know</tspan><tspan x="2.5" dy="4.3">which artworks</tspan><tspan x="2.5" dy="4.3">are worth</tspan><tspan x="2.5" dy="4.3">seeing.</tspan></text></g>
<g id="y702f" transform="translate(702 331)"><rect class="y" width="30" height="30"/><text class="t"><tspan x="2.5" y="6">U6-10</tspan><tspan x="2.5" dy="4.3">I would like to</tspan><tspan x="2.5" dy="4.3">know what the</tspan><tspan x="2.5" dy="4.3">museum has</tspan><tspan x="2.5" dy="4.3">to offer.</tspan></text></g>
<g id="y804a" transform="translate(804 147)"><rect class="y" width="30" height="30"/><text class="t"><tspan x="2.5" y="6">U8-11</tspan><tspan x="2.5" dy="4.3">I like to visit</tspan><tspan x="2.5" dy="4.3">art museums</tspan><tspan x="2.5" dy="4.3">with my friends</tspan><tspan x="2.5" dy="4.3">and family.</tspan></text></g>
<g id="y804b" transform="translate(804 184)"><rect class="y" width="30" height="30"/><text font-size="4.2"><tspan x="2.5" y="6">U7-15</tspan><tspan x="2.5" dy="5.2">Museums are</tspan><tspan x="2.5" dy="5.2">good places</tspan><tspan x="2.5" dy="5.2">to take dates.</tspan></text></g>
<g id="y839a" transform="translate(839 150)"><rect class="y" width="30" height="30"/><text class="t"><tspan x="2.5" y="6">U5-14</tspan><tspan x="2.5" dy="4.3">I usually go in</tspan><tspan x="2.5" dy="4.3">groups, to share</tspan><tspan x="2.5" dy="4.3">our opinions.</tspan></text></g>
<g id="y839b" transform="translate(839 183)"><rect class="y" width="30" height="30"/><text font-size="4.2"><tspan x="2.5" y="6">U6-21</tspan><tspan x="2.5" dy="5.2">My friend loves</tspan><tspan x="2.5" dy="5.2">art, she</tspan><tspan x="2.5" dy="5.2">brought me</tspan><tspan x="2.5" dy="5.2">here.</tspan></text></g>
<g id="y839c" transform="translate(839 218)"><rect class="y" width="30" height="30"/><text class="t"><tspan x="2.5" y="6">U4-06</tspan><tspan x="2.5" dy="4.3">We usually talk</tspan><tspan x="2.5" dy="4.3">about the</tspan><tspan x="2.5" dy="4.3">artworks when</tspan><tspan x="2.5" dy="4.3">we visit.</tspan></text></g>
<g id="y839d" transform="translate(839 254)"><rect class="y" width="30" height="30"/><text class="t"><tspan x="2.5" y="6">U2-18</tspan><tspan x="2.5" dy="4.3">I like to go to</tspan><tspan x="2.5" dy="4.3">museums with</tspan><tspan x="2.5" dy="4.3">friends who</tspan><tspan x="2.5" dy="4.3">like art.</tspan></text></g>
<g id="y839e" transform="translate(839 290)"><rect class="y" width="30" height="30"/><text class="t"><tspan x="2.5" y="6">U3-04</tspan><tspan x="2.5" dy="4.3">I would invite</tspan><tspan x="2.5" dy="4.3">someone with</tspan><tspan x="2.5" dy="4.3">the same taste</tspan><tspan x="2.5" dy="4.3">as me.</tspan></text></g>
<g id="y893a" transform="translate(893 149)"><rect class="y" width="30" height="30"/><text class="t"><tspan x="2.5" y="6">U1-16</tspan><tspan x="2.5" dy="4.3">I would like to</tspan><tspan x="2.5" dy="4.3">share what I</tspan><tspan x="2.5" dy="4.3">see with my</tspan><tspan x="2.5" dy="4.3">friends.</tspan></text></g>
<g id="y893b" transform="translate(893 185)"><rect class="y" width="30" height="30"/><text class="t"><tspan x="2.5" y="6">U3-13</tspan><tspan x="2.5" dy="4.3">I post pictures</tspan><tspan x="2.5" dy="4.3">on social</tspan><tspan x="2.5" dy="4.3">media to share</tspan><tspan x="2.5" dy="4.3">with others.</tspan></text></g>
<g id="y893c" transform="translate(893 220)"><rect class="y" width="30" height="30"/><text class="t"><tspan x="2.5" y="6">U6-12</tspan><tspan x="2.5" dy="4.3">I like sharing</tspan><tspan x="2.5" dy="4.3">the photos I</tspan><tspan x="2.5" dy="4.3">took in art</tspan><tspan x="2.5" dy="4.3">museums.</tspan></text></g>
<g id="y893d" transform="translate(893 255)"><rect class="y" width="30" height="30"/><text font-size="4"><tspan x="2.5" y="6">U5-17</tspan><tspan x="2.5" dy="5">Sometimes I</tspan><tspan x="2.5" dy="5">post my</tspan><tspan x="2.5" dy="5">favorite pictures</tspan><tspan x="2.5" dy="5">to the friends.</tspan></text></g>
<g id="y893e" transform="translate(893 290)"><rect class="y" width="30" height="30"/><text class="t"><tspan x="2.5" y="6">U2-19</tspan><tspan x="2.5" dy="4.3">I share the</tspan><tspan x="2.5" dy="4.3">photos to get</tspan><tspan x="2.5" dy="4.3">more likes and</tspan><tspan x="2.5" dy="4.3">comments.</tspan></text></g>
<g id="y929a" transform="translate(929 149)"><rect class="y" width="30" height="30"/><text class="t"><tspan x="2.5" y="6">U4-14</tspan><tspan x="2.5" dy="4.3">I would like to</tspan><tspan x="2.5" dy="4.3">see what others</tspan><tspan x="2.5" dy="4.3">post about</tspan><tspan x="2.5" dy="4.3">the artwork.</tspan></text></g>
<g id="y929b" transform="translate(929 186)"><rect class="y" width="30" height="30"/><text class="t"><tspan x="2.5" y="6">U1-17</tspan><tspan x="2.5" dy="4.3">I'm curious</tspan><tspan x="2.5" dy="4.3">about what</tspan><tspan x="2.5" dy="4.3">others think</tspan><tspan x="2.5" dy="4.3">about it.</tspan></text></g>
<g id="y929c" transform="translate(929 220)"><rect class="y" width="30" height="30"/><text class="t"><tspan x="2.5" y="6">U5-15</tspan><tspan x="2.5" dy="4.3">I would read</tspan><tspan x="2.5" dy="4.3">others' posts</tspan><tspan x="2.5" dy="4.3">about the same</tspan><tspan x="2.5" dy="4.3">exhibition.</tspan></text></g>
<g id="y929d" transform="translate(929 255)"><rect class="y" width="30" height="30"/><text class="t"><tspan x="2.5" y="6">U6-13</tspan><tspan x="2.5" dy="4.3">I read reviews</tspan><tspan x="2.5" dy="4.3">of the artwork</tspan><tspan x="2.5" dy="4.3">from other</tspan><tspan x="2.5" dy="4.3">visitors.</tspan></text></g>
<g id="y929e" transform="translate(929 290)"><rect class="y" width="30" height="30"/><text font-size="4"><tspan x="2.5" y="6">U8-09</tspan><tspan x="2.5" dy="5">I enjoy museum</tspan><tspan x="2.5" dy="5">visits because</tspan><tspan x="2.5" dy="5">of the people</tspan><tspan x="2.5" dy="5">I meet.</tspan></text></g>
<g id="y929f" transform="translate(929 326)"><rect class="y" width="30" height="30"/><text font-size="4"><tspan x="2.5" y="6">U8-08</tspan><tspan x="2.5" dy="5">I get inspired</tspan><tspan x="2.5" dy="5">from others</tspan><tspan x="2.5" dy="5">I meet in</tspan><tspan x="2.5" dy="5">museums.</tspan></text></g>
<g id="y966a" transform="translate(966 149)"><rect class="y" width="30" height="30"/><text class="t"><tspan x="2.5" y="6">U3-18</tspan><tspan x="2.5" dy="4.3">I hope people</tspan><tspan x="2.5" dy="4.3">would like the</tspan><tspan x="2.5" dy="4.3">photos I</tspan><tspan x="2.5" dy="4.3">posted.</tspan></text></g>
<g id="y966b" transform="translate(966 186)"><rect class="y" width="30" height="30"/><text class="t"><tspan x="2.5" y="6">U4-16</tspan><tspan x="2.5" dy="4.3">I post pictures</tspan><tspan x="2.5" dy="4.3">to attract</tspan><tspan x="2.5" dy="4.3">attention from</tspan><tspan x="2.5" dy="4.3">followers.</tspan></text></g>
<g id="y966c" transform="translate(966 222)"><rect class="y" width="30" height="30"/><text class="t"><tspan x="2.5" y="6">U2-20</tspan><tspan x="2.5" dy="4.3">I like it when</tspan><tspan x="2.5" dy="4.3">people comment</tspan><tspan x="2.5" dy="4.3">on my</tspan><tspan x="2.5" dy="4.3">photos.</tspan></text></g>
<g id="y1005a" transform="translate(1005 149)"><rect class="y" width="30" height="30"/><text class="t"><tspan x="2.5" y="6">U2-21</tspan><tspan x="2.5" dy="4.3">I hope to share</tspan><tspan x="2.5" dy="4.3">my thoughts</tspan><tspan x="2.5" dy="4.3">with people</tspan><tspan x="2.5" dy="4.3">I'm with.</tspan></text></g>
<g id="y1005b" transform="translate(1005 186)"><rect class="y" width="30" height="30"/><text class="t"><tspan x="2.5" y="6">U5-16</tspan><tspan x="2.5" dy="4.3">I like to hear</tspan><tspan x="2.5" dy="4.3">what others</tspan><tspan x="2.5" dy="4.3">think of the</tspan><tspan x="2.5" dy="4.3">artwork.</tspan></text></g>
<g id="y1005c" transform="translate(1005 221)"><rect class="y" width="30" height="30"/><text class="t"><tspan x="2.5" y="6">U1-18</tspan><tspan x="2.5" dy="4.3">Discussing with</tspan><tspan x="2.5" dy="4.3">others gives</tspan><tspan x="2.5" dy="4.3">me a new</tspan><tspan x="2.5" dy="4.3">perspective.</tspan></text></g>
<g id="y1005d" transform="translate(1005 254)"><rect class="y" width="30" height="30"/><text font-size="4"><tspan x="2.5" y="6">U6-14</tspan><tspan x="2.5" dy="5">People would</tspan><tspan x="2.5" dy="5">share their</tspan><tspan x="2.5" dy="5">feelings on</tspan><tspan x="2.5" dy="5">social media.</tspan></text></g>
<g id="y1109a" transform="translate(1109 148)"><rect class="y" width="30" height="30"/><text font-size="4"><tspan x="2.5" y="6">U5-12</tspan><tspan x="2.5" dy="5">I usually go to</tspan><tspan x="2.5" dy="5">art museums</tspan><tspan x="2.5" dy="5">just for</tspan><tspan x="2.5" dy="5">entertainment.</tspan></text></g>
<g id="y1109b" transform="translate(1109 183)"><rect class="y" width="30" height="30"/><text class="t"><tspan x="2.5" y="6">U3-19</tspan><tspan x="2.5" dy="4.3">Museums are</tspan><tspan x="2.5" dy="4.3">a nice place</tspan><tspan x="2.5" dy="4.3">to relax on</tspan><tspan x="2.5" dy="4.3">weekends.</tspan></text></g>
<g id="y1109c" transform="translate(1109 220)"><rect class="y" width="30" height="30"/><text class="t"><tspan x="2.5" y="6">U6-15</tspan><tspan x="2.5" dy="4.3">I would like to</tspan><tspan x="2.5" dy="4.3">spend my free</tspan><tspan x="2.5" dy="4.3">time in art</tspan><tspan x="2.5" dy="4.3">museums.</tspan></text></g>
<g id="y1109d" transform="translate(1109 257)"><rect class="y" width="30" height="30"/><text font-size="4"><tspan x="2.5" y="6">U4-20</tspan><tspan x="2.5" dy="5">I go there</tspan><tspan x="2.5" dy="5">to enjoy the</tspan><tspan x="2.5" dy="5">atmosphere of</tspan><tspan x="2.5" dy="5">the place.</tspan></text></g>
<g id="y1109e" transform="translate(1109 294)"><rect class="y" width="30" height="30"/><text class="t"><tspan x="2.5" y="6">U2-22</tspan><tspan x="2.5" dy="4.3">Visiting art</tspan><tspan x="2.5" dy="4.3">museums is a</tspan><tspan x="2.5" dy="4.3">good way to</tspan><tspan x="2.5" dy="4.3">kill time.</tspan></text></g>
<g id="y1164a" transform="translate(1164 148)"><rect class="y" width="30" height="30"/><text class="t"><tspan x="2.5" y="6">U1-19</tspan><tspan x="2.5" dy="4.3">I don't read it</tspan><tspan x="2.5" dy="4.3">if it's boring,</tspan><tspan x="2.5" dy="4.3">I just look at</tspan><tspan x="2.5" dy="4.3">the artwork.</tspan></text></g>
<g id="y1164b" transform="translate(1164 183)"><rect class="y" width="30" height="30"/><text font-size="4"><tspan x="2.5" y="6">U4-18</tspan><tspan x="2.5" dy="5">I'm completely</tspan><tspan x="2.5" dy="5">content just</tspan><tspan x="2.5" dy="5">observing the</tspan><tspan x="2.5" dy="5">artwork.</tspan></text></g>
<g id="y1164c" transform="translate(1164 219)"><rect class="y" width="30" height="30"/><text class="t"><tspan x="2.5" y="6">U3-20</tspan><tspan x="2.5" dy="4.3">I like to stand</tspan><tspan x="2.5" dy="4.3">in front of an</tspan><tspan x="2.5" dy="4.3">artwork and</tspan><tspan x="2.5" dy="4.3">think.</tspan></text></g>
<g id="y1200a" transform="translate(1200 148)"><rect class="y" width="30" height="30"/><text class="t"><tspan x="2.5" y="6">U6-16</tspan><tspan x="2.5" dy="4.3">I have my own</tspan><tspan x="2.5" dy="4.3">opinion about</tspan><tspan x="2.5" dy="4.3">the artwork I</tspan><tspan x="2.5" dy="4.3">see.</tspan></text></g>
<g id="y1200b" transform="translate(1200 183)"><rect class="y" width="30" height="30"/><text font-size="4"><tspan x="2.5" y="6">U3-03</tspan><tspan x="2.5" dy="5">I would make</tspan><tspan x="2.5" dy="5">up a story for</tspan><tspan x="2.5" dy="5">it, when I look</tspan><tspan x="2.5" dy="5">at it.</tspan></text></g>
<g id="y1200c" transform="translate(1200 219)"><rect class="y" width="30" height="30"/><text class="t"><tspan x="2.5" y="6">U5-18</tspan><tspan x="2.5" dy="4.3">I imagine what</tspan><tspan x="2.5" dy="4.3">the artist was</tspan><tspan x="2.5" dy="4.3">thinking when</tspan><tspan x="2.5" dy="4.3">painting.</tspan></text></g>
<g id="y1200d" transform="translate(1200 256)"><rect class="y" width="30" height="30"/><text class="t"><tspan x="2.5" y="6">U2-23</tspan><tspan x="2.5" dy="4.3">I like to give</tspan><tspan x="2.5" dy="4.3">my own</tspan><tspan x="2.5" dy="4.3">interpretation</tspan><tspan x="2.5" dy="4.3">of artworks.</tspan></text></g>
<g id="y1236a" transform="translate(1236 148)"><rect class="y" width="30" height="30"/><text class="t"><tspan x="2.5" y="6">U4-19</tspan><tspan x="2.5" dy="4.3">Stories make</tspan><tspan x="2.5" dy="4.3">the artwork</tspan><tspan x="2.5" dy="4.3">more</tspan><tspan x="2.5" dy="4.3">interesting.</tspan></text></g>
<g id="y1236b" transform="translate(1236 183)"><rect class="y" width="30" height="30"/><text font-size="4"><tspan x="2.5" y="6">U1-11</tspan><tspan x="2.5" dy="5">The backstory</tspan><tspan x="2.5" dy="5">of stories, it's</tspan><tspan x="2.5" dy="5">more</tspan><tspan x="2.5" dy="5">interesting.</tspan></text></g>
<g id="y1236c" transform="translate(1236 217)"><rect class="y" width="30" height="30"/><text font-size="4"><tspan x="2.5" y="6">U4-15</tspan><tspan x="2.5" dy="5">I want to know</tspan><tspan x="2.5" dy="5">more stories</tspan><tspan x="2.5" dy="5">about the</tspan><tspan x="2.5" dy="5">artist.</tspan></text></g>
<g id="y1236d" transform="translate(1236 254)"><rect class="y" width="30" height="30"/><text class="t"><tspan x="2.5" y="6">U6-17</tspan><tspan x="2.5" dy="4.3">For some</tspan><tspan x="2.5" dy="4.3">artworks, stories</tspan><tspan x="2.5" dy="4.3">make them</tspan><tspan x="2.5" dy="4.3">memorable.</tspan></text></g>
<g id="y1337a" transform="translate(1337 148)"><rect class="y" width="30" height="30"/><text class="t"><tspan x="2.5" y="6">U6-18</tspan><tspan x="2.5" dy="4.3">I write down my</tspan><tspan x="2.5" dy="4.3">thoughts about</tspan><tspan x="2.5" dy="4.3">the artwork</tspan><tspan x="2.5" dy="4.3">on my phone.</tspan></text></g>
<g id="y1337b" transform="translate(1337 184)"><rect class="y" width="30" height="30"/><text font-size="4.5"><tspan x="2.5" y="6">U4-21</tspan><tspan x="2.5" dy="5.6">I will write</tspan><tspan x="2.5" dy="5.6">down my</tspan><tspan x="2.5" dy="5.6">feelings.</tspan></text></g>
<g id="y1337c" transform="translate(1337 220)"><rect class="y" width="30" height="30"/><text class="t"><tspan x="2.5" y="6">U3-21</tspan><tspan x="2.5" dy="4.3">I take notes</tspan><tspan x="2.5" dy="4.3">on the</tspan><tspan x="2.5" dy="4.3">artworks I</tspan><tspan x="2.5" dy="4.3">like.</tspan></text></g>
<g id="y1337d" transform="translate(1337 257)"><rect class="y" width="30" height="30"/><text font-size="4.2"><tspan x="2.5" y="6">U5-19</tspan><tspan x="2.5" dy="5.2">I'd like to</tspan><tspan x="2.5" dy="5.2">record my</tspan><tspan x="2.5" dy="5.2">own ideas</tspan><tspan x="2.5" dy="5.2">of artworks.</tspan></text></g>
<g id="y1337e" transform="translate(1337 294)"><rect class="y" width="30" height="30"/><text class="t"><tspan x="2.5" y="6">U2-24</tspan><tspan x="2.5" dy="4.3">I would write</tspan><tspan x="2.5" dy="4.3">a short note</tspan><tspan x="2.5" dy="4.3">on the photo</tspan><tspan x="2.5" dy="4.3">I took.</tspan></text></g>
<g id="y1374a" transform="translate(1374 148)"><rect class="y" width="30" height="30"/><text font-size="4.2"><tspan x="2.5" y="6">U5-20</tspan><tspan x="2.5" dy="5.2">I like to keep</tspan><tspan x="2.5" dy="5.2">my notes in</tspan><tspan x="2.5" dy="5.2">one place</tspan><tspan x="2.5" dy="5.2">for later.</tspan></text></g>
<g id="y1374b" transform="translate(1374 185)"><rect class="y" width="30" height="30"/><text class="t"><tspan x="2.5" y="6">U1-20</tspan><tspan x="2.5" dy="4.3">I would make</tspan><tspan x="2.5" dy="4.3">a collection of</tspan><tspan x="2.5" dy="4.3">artworks I</tspan><tspan x="2.5" dy="4.3">like.</tspan></text></g>
<g id="y1374c" transform="translate(1374 222)"><rect class="y" width="30" height="30"/><text font-size="4.2"><tspan x="2.5" y="6">U4-22</tspan><tspan x="2.5" dy="5.2">I usually like it</tspan><tspan x="2.5" dy="5.2">I would</tspan><tspan x="2.5" dy="5.2">organize the</tspan><tspan x="2.5" dy="5.2">information.</tspan></text></g>
<g id="y1374d" transform="translate(1374 256)"><rect class="y" width="30" height="30"/><text font-size="4.2"><tspan x="2.5" y="6">U6-19</tspan><tspan x="2.5" dy="5.2">I would make</tspan><tspan x="2.5" dy="5.2">an album of</tspan><tspan x="2.5" dy="5.2">my favorite</tspan><tspan x="2.5" dy="5.2">artworks.</tspan></text></g>
<g id="y1374e" transform="translate(1374 295)"><rect class="y" width="30" height="30"/><text class="t"><tspan x="2.5" y="6">U3-22</tspan><tspan x="2.5" dy="4.3">I like to see</tspan><tspan x="2.5" dy="4.3">a summary of</tspan><tspan x="2.5" dy="4.3">my visit</tspan><tspan x="2.5" dy="4.3">afterwards.</tspan></text></g>
<g id="y1410a" transform="translate(1410 149)"><rect class="y" width="30" height="30"/><text class="t"><tspan x="2.5" y="6">U2-25</tspan><tspan x="2.5" dy="4.3">I usually don't</tspan><tspan x="2.5" dy="4.3">organize my</tspan><tspan x="2.5" dy="4.3">photos after</tspan><tspan x="2.5" dy="4.3">the visit.</tspan></text></g>
<g id="y1410b" transform="translate(1410 186)"><rect class="y" width="30" height="30"/><text font-size="4"><tspan x="2.5" y="6">U5-21</tspan><tspan x="2.5" dy="5">I usually save</tspan><tspan x="2.5" dy="5">the pictures</tspan><tspan x="2.5" dy="5">in the</tspan><tspan x="2.5" dy="5">album.</tspan></text></g>
<g id="y1410c" transform="translate(1410 219)"><rect class="y" width="30" height="30"/><text class="t"><tspan x="2.5" y="6">U6-20</tspan><tspan x="2.5" dy="4.3">I just keep</tspan><tspan x="2.5" dy="4.3">all the photos</tspan><tspan x="2.5" dy="4.3">in my phone</tspan><tspan x="2.5" dy="4.3">gallery.</tspan></text></g>
<g id="y1464a" transform="translate(1464 148)"><rect class="y" width="30" height="30"/><text class="t"><tspan x="2.5" y="6">U2-26</tspan><tspan x="2.5" dy="4.3">I prefer modern</tspan><tspan x="2.5" dy="4.3">art and</tspan><tspan x="2.5" dy="4.3">contemporary</tspan><tspan x="2.5" dy="4.3">art.</tspan></text></g>
<g id="y1464b" transform="translate(1464 183)"><rect class="y" width="30" height="30"/><text class="t"><tspan x="2.5" y="6">U4-23</tspan><tspan x="2.5" dy="4.3">I'm not into</tspan><tspan x="2.5" dy="4.3">classical art,</tspan><tspan x="2.5" dy="4.3">I prefer</tspan><tspan x="2.5" dy="4.3">modern art.</tspan></text></g>
<g id="y1464c" transform="translate(1464 220)"><rect class="y" width="30" height="30"/><text font-size="4"><tspan x="2.5" y="6">U3-23</tspan><tspan x="2.5" dy="5">I prefer Asian</tspan><tspan x="2.5" dy="5">art, I like</tspan><tspan x="2.5" dy="5">Chinese</tspan><tspan x="2.5" dy="5">paintings.</tspan></text></g>
<g id="y1464d" transform="translate(1464 257)"><rect class="y" width="30" height="30"/><text class="t"><tspan x="2.5" y="6">U6-22</tspan><tspan x="2.5" dy="4.3">I like some</tspan><tspan x="2.5" dy="4.3">types of art</tspan><tspan x="2.5" dy="4.3">more than</tspan><tspan x="2.5" dy="4.3">others.</tspan></text></g>
<g id="y1464e" transform="translate(1464 292)"><rect class="y" width="30" height="30"/><text font-size="4"><tspan x="2.5" y="6">U1-21</tspan><tspan x="2.5" dy="5">I've been visiting</tspan><tspan x="2.5" dy="5">this museum</tspan><tspan x="2.5" dy="5">for years.</tspan></text></g>
<g id="y1500a" transform="translate(1500 149)"><rect class="y" width="30" height="30"/><text class="t"><tspan x="2.5" y="6">U5-22</tspan><tspan x="2.5" dy="4.3">I would skip</tspan><tspan x="2.5" dy="4.3">the artworks</tspan><tspan x="2.5" dy="4.3">I'm not</tspan><tspan x="2.5" dy="4.3">interested in.</tspan></text></g>
<g id="y1500b" transform="translate(1500 184)"><rect class="y" width="30" height="30"/><text class="t"><tspan x="2.5" y="6">U1-22</tspan><tspan x="2.5" dy="4.3">I only look</tspan><tspan x="2.5" dy="4.3">at the ones</tspan><tspan x="2.5" dy="4.3">I like.</tspan></text></g>
<g id="y1500c" transform="translate(1500 220)"><rect class="y" width="30" height="30"/><text class="t"><tspan x="2.5" y="6">U4-24</tspan><tspan x="2.5" dy="4.3">I would walk</tspan><tspan x="2.5" dy="4.3">quickly past</tspan><tspan x="2.5" dy="4.3">the artworks</tspan><tspan x="2.5" dy="4.3">I don't like.</tspan></text></g>
<g id="y1500d" transform="translate(1500 257)"><rect class="y" width="30" height="30"/><text font-size="4.5"><tspan x="2.5" y="6">U3-25</tspan><tspan x="2.5" dy="5.6">I usually like</tspan><tspan x="2.5" dy="5.6">to see it</tspan><tspan x="2.5" dy="5.6">again.</tspan></text></g>
<g id="y1552a" transform="translate(1552 147)"><rect class="y" width="30" height="30"/><text class="t"><tspan x="2.5" y="6">U6-23</tspan><tspan x="2.5" dy="4.3">I would like</tspan><tspan x="2.5" dy="4.3">the museum</tspan><tspan x="2.5" dy="4.3">to recommend</tspan><tspan x="2.5" dy="4.3">artworks.</tspan></text></g>
<g id="y1552b" transform="translate(1552 184)"><rect class="y" width="30" height="30"/><text class="t"><tspan x="2.5" y="6">U2-27</tspan><tspan x="2.5" dy="4.3">A personalized</tspan><tspan x="2.5" dy="4.3">route would be</tspan><tspan x="2.5" dy="4.3">nice for my</tspan><tspan x="2.5" dy="4.3">visit.</tspan></text></g>
<g id="y1552c" transform="translate(1552 220)"><rect class="y" width="30" height="30"/><text class="t"><tspan x="2.5" y="6">U5-23</tspan><tspan x="2.5" dy="4.3">I would like to</tspan><tspan x="2.5" dy="4.3">get suggestions</tspan><tspan x="2.5" dy="4.3">based on my</tspan><tspan x="2.5" dy="4.3">preferences.</tspan></text></g>
<g id="y1552d" transform="translate(1552 257)"><rect class="y" width="30" height="30"/><text class="t"><tspan x="2.5" y="6">U4-25</tspan><tspan x="2.5" dy="4.3">I'd like to</tspan><tspan x="2.5" dy="4.3">discover art</tspan><tspan x="2.5" dy="4.3">based on my</tspan><tspan x="2.5" dy="4.3">taste.</tspan></text></g>
<g id="y1587a" transform="translate(1587 146)"><rect class="y" width="30" height="30"/><text class="t"><tspan x="2.5" y="6">U1-23</tspan><tspan x="2.5" dy="4.3">I like to see</tspan><tspan x="2.5" dy="4.3">new artists</tspan><tspan x="2.5" dy="4.3">and new</tspan><tspan x="2.5" dy="4.3">artworks.</tspan></text></g>
<g id="y1587b" transform="translate(1587 184)"><rect class="y" width="30" height="30"/><text class="t"><tspan x="2.5" y="6">U3-26</tspan><tspan x="2.5" dy="4.3">I enjoy</tspan><tspan x="2.5" dy="4.3">finding</tspan><tspan x="2.5" dy="4.3">something</tspan><tspan x="2.5" dy="4.3">new.</tspan></text></g>
<g id="y1623a" transform="translate(1623 147)"><rect class="y" width="30" height="30"/><text class="t"><tspan x="2.5" y="6">U2-28</tspan><tspan x="2.5" dy="4.3">I like to find</tspan><tspan x="2.5" dy="4.3">new artists</tspan><tspan x="2.5" dy="4.3">and learn</tspan><tspan x="2.5" dy="4.3">about them.</tspan></text></g>
<g id="y1623b" transform="translate(1623 184)"><rect class="y" width="30" height="30"/><text class="t"><tspan x="2.5" y="6">U4-26</tspan><tspan x="2.5" dy="4.3">I like all types</tspan><tspan x="2.5" dy="4.3">of art, I'm open</tspan><tspan x="2.5" dy="4.3">to new things.</tspan></text></g>
<g id="y1623c" transform="translate(1623 219)"><rect class="y" width="30" height="30"/><text class="t"><tspan x="2.5" y="6">U5-24</tspan><tspan x="2.5" dy="4.3">I like to see</tspan><tspan x="2.5" dy="4.3">different</tspan><tspan x="2.5" dy="4.3">styles of</tspan><tspan x="2.5" dy="4.3">artworks.</tspan></text></g>
<g id="y1623d" transform="translate(1623 256)"><rect class="y" width="30" height="30"/><text class="t"><tspan x="2.5" y="6">U6-24</tspan><tspan x="2.5" dy="4.3">Variety is what</tspan><tspan x="2.5" dy="4.3">I enjoy most</tspan><tspan x="2.5" dy="4.3">in art</tspan><tspan x="2.5" dy="4.3">museums.</tspan></text></g>
<g id="y1672a" transform="translate(1672 147)"><rect class="y" width="30" height="30"/><text class="t"><tspan x="2.5" y="6">U3-27</tspan><tspan x="2.5" dy="4.3">I like to move</tspan><tspan x="2.5" dy="4.3">at my own</tspan><tspan x="2.5" dy="4.3">pace in the</tspan><tspan x="2.5" dy="4.3">museum.</tspan></text></g>
<g id="y1672b" transform="translate(1672 182)"><rect class="y" width="30" height="30"/><text class="t"><tspan x="2.5" y="6">U1-24</tspan><tspan x="2.5" dy="4.3">I would like</tspan><tspan x="2.5" dy="4.3">to decide my</tspan><tspan x="2.5" dy="4.3">own route.</tspan></text></g>
<g id="y1672c" transform="translate(1672 219)"><rect class="y" width="30" height="30"/><text class="t"><tspan x="2.5" y="6">U2-29</tspan><tspan x="2.5" dy="4.3">I don't like</tspan><tspan x="2.5" dy="4.3">following a</tspan><tspan x="2.5" dy="4.3">guided tour</tspan><tspan x="2.5" dy="4.3">in the museum.</tspan></text></g>
<g id="y1672d" transform="translate(1672 256)"><rect class="y" width="30" height="30"/><text font-size="4"><tspan x="2.5" y="6">U5-25</tspan><tspan x="2.5" dy="5">Guided tours</tspan><tspan x="2.5" dy="5">take a long</tspan><tspan x="2.5" dy="5">time to finish.</tspan></text></g>
<g id="y1709a" transform="translate(1709 147)"><rect class="y" width="30" height="30"/><text class="t"><tspan x="2.5" y="6">U4-27</tspan><tspan x="2.5" dy="4.3">I would like to</tspan><tspan x="2.5" dy="4.3">choose how the</tspan><tspan x="2.5" dy="4.3">information is</tspan><tspan x="2.5" dy="4.3">displayed.</tspan></text></g>
<g id="y1709b" transform="translate(1709 181)"><rect class="y" width="30" height="30"/><text font-size="4"><tspan x="2.5" y="6">U6-25</tspan><tspan x="2.5" dy="5">Audio guides</tspan><tspan x="2.5" dy="5">are not</tspan><tspan x="2.5" dy="5">always</tspan><tspan x="2.5" dy="5">suitable.</tspan></text></g>
<g id="y1709c" transform="translate(1709 216)"><rect class="y" width="30" height="30"/><text class="t"><tspan x="2.5" y="6">U3-28</tspan><tspan x="2.5" dy="4.3">I would like to</tspan><tspan x="2.5" dy="4.3">read instead of</tspan><tspan x="2.5" dy="4.3">listening to</tspan><tspan x="2.5" dy="4.3">the guide.</tspan></text></g>
<g id="y1709d" transform="translate(1709 251)"><rect class="y" width="30" height="30"/><text class="t"><tspan x="2.5" y="6">U1-25</tspan><tspan x="2.5" dy="4.3">Sometimes I</tspan><tspan x="2.5" dy="4.3">prefer videos</tspan><tspan x="2.5" dy="4.3">to texts.</tspan></text></g>
<g id="y1815a" transform="translate(1815 149)"><rect class="y" width="30" height="30"/><text class="t"><tspan x="2.5" y="6">U2-30</tspan><tspan x="2.5" dy="4.3">I don't want to</tspan><tspan x="2.5" dy="4.3">organize the</tspan><tspan x="2.5" dy="4.3">photos after</tspan><tspan x="2.5" dy="4.3">the visit.</tspan></text></g>
<g id="y1815b" transform="translate(1815 184)"><rect class="y" width="30" height="30"/><text class="t"><tspan x="2.5" y="6">U5-26</tspan><tspan x="2.5" dy="4.3">I'm too lazy to</tspan><tspan x="2.5" dy="4.3">organize the</tspan><tspan x="2.5" dy="4.3">information.</tspan></text></g>
<g id="y1815c" transform="translate(1815 219)"><rect class="y" width="30" height="30"/><text class="t"><tspan x="2.5" y="6">U4-28</tspan><tspan x="2.5" dy="4.3">I never look at</tspan><tspan x="2.5" dy="4.3">the photos</tspan><tspan x="2.5" dy="4.3">again after</tspan><tspan x="2.5" dy="4.3">my visit.</tspan></text></g>
<g id="y1850a" transform="translate(1850 149)"><rect class="y" width="30" height="30"/><text font-size="4"><tspan x="2.5" y="6">U3-29</tspan><tspan x="2.5" dy="5">I usually just</tspan><tspan x="2.5" dy="5">forget about</tspan><tspan x="2.5" dy="5">the pictures</tspan><tspan x="2.5" dy="5">I took.</tspan></text></g>
<g id="y1850b" transform="translate(1850 184)"><rect class="y" width="30" height="30"/><text font-size="4"><tspan x="2.5" y="6">U1-26</tspan><tspan x="2.5" dy="5">I'm easy to</tspan><tspan x="2.5" dy="5">forget the</tspan><tspan x="2.5" dy="5">details after</tspan><tspan x="2.5" dy="5">the visit.</tspan></text></g>
<g id="y1850c" transform="translate(1850 219)"><rect class="y" width="30" height="30"/><text class="t"><tspan x="2.5" y="6">U6-26</tspan><tspan x="2.5" dy="4.3">I sometimes</tspan><tspan x="2.5" dy="4.3">forget to look</tspan><tspan x="2.5" dy="4.3">up the</tspan><tspan x="2.5" dy="4.3">artwork.</tspan></text></g>
<g id="y1897a" transform="translate(1897 149)"><rect class="y" width="30" height="30"/><text font-size="4"><tspan x="2.5" y="6">U4-31</tspan><tspan x="2.5" dy="5">I would take</tspan><tspan x="2.5" dy="5">photos if they</tspan><tspan x="2.5" dy="5">allowed me to.</tspan></text></g>
<g id="y1897b" transform="translate(1897 186)"><rect class="y" width="30" height="30"/><text font-size="4"><tspan x="2.5" y="6">U2-31</tspan><tspan x="2.5" dy="5">I usually just</tspan><tspan x="2.5" dy="5">use the</tspan><tspan x="2.5" dy="5">camera on my</tspan><tspan x="2.5" dy="5">phone.</tspan></text></g>
<g id="y1897c" transform="translate(1897 221)"><rect class="y" width="30" height="30"/><text class="t"><tspan x="2.5" y="6">U5-27</tspan><tspan x="2.5" dy="4.3">Some museums</tspan><tspan x="2.5" dy="4.3">don't allow</tspan><tspan x="2.5" dy="4.3">taking photos</tspan><tspan x="2.5" dy="4.3">of artworks.</tspan></text></g>
<g id="y1932a" transform="translate(1932 149)"><rect class="y" width="30" height="30"/><text class="t"><tspan x="2.5" y="6">U3-30</tspan><tspan x="2.5" dy="4.3">Some museums</tspan><tspan x="2.5" dy="4.3">don't allow</tspan><tspan x="2.5" dy="4.3">phones in the</tspan><tspan x="2.5" dy="4.3">galleries.</tspan></text></g>
<g id="y1932b" transform="translate(1932 186)"><rect class="y" width="30" height="30"/><text class="t"><tspan x="2.5" y="6">U6-27</tspan><tspan x="2.5" dy="4.3">The lights are</tspan><tspan x="2.5" dy="4.3">too dark to</tspan><tspan x="2.5" dy="4.3">take good</tspan><tspan x="2.5" dy="4.3">photos.</tspan></text></g>
<g id="y1932c" transform="translate(1932 221)"><rect class="y" width="30" height="30"/><text class="t"><tspan x="2.5" y="6">U1-27</tspan><tspan x="2.5" dy="4.3">I can't get</tspan><tspan x="2.5" dy="4.3">close to the</tspan><tspan x="2.5" dy="4.3">artwork</tspan><tspan x="2.5" dy="4.3">sometimes.</tspan></text></g>
<g id="y1932d" transform="translate(1932 255)"><rect class="y" width="30" height="30"/><text class="t"><tspan x="2.5" y="6">U4-29</tspan><tspan x="2.5" dy="4.3">There are rules</tspan><tspan x="2.5" dy="4.3">about what</tspan><tspan x="2.5" dy="4.3">visitors can</tspan><tspan x="2.5" dy="4.3">do there.</tspan></text></g>
<g id="y1932e" transform="translate(1932 292)"><rect class="y" width="30" height="30"/><text class="t"><tspan x="2.5" y="6">U2-32</tspan><tspan x="2.5" dy="4.3">Some areas are</tspan><tspan x="2.5" dy="4.3">closed to</tspan><tspan x="2.5" dy="4.3">visitors.</tspan></text></g>
<g id="y1977a" transform="translate(1977 149)"><rect class="y" width="30" height="30"/><text class="t"><tspan x="2.5" y="6">U5-28</tspan><tspan x="2.5" dy="4.3">My visits are</tspan><tspan x="2.5" dy="4.3">usually short,</tspan><tspan x="2.5" dy="4.3">I don't have</tspan><tspan x="2.5" dy="4.3">much time.</tspan></text></g>
<g id="y1977b" transform="translate(1977 186)"><rect class="y" width="30" height="30"/><text class="t"><tspan x="2.5" y="6">U3-31</tspan><tspan x="2.5" dy="4.3">I don't have</tspan><tspan x="2.5" dy="4.3">time to read</tspan><tspan x="2.5" dy="4.3">all the</tspan><tspan x="2.5" dy="4.3">information.</tspan></text></g>
<g id="y1977c" transform="translate(1977 223)"><rect class="y" width="30" height="30"/><text class="t"><tspan x="2.5" y="6">U6-28</tspan><tspan x="2.5" dy="4.3">I have to finish</tspan><tspan x="2.5" dy="4.3">my visit in a</tspan><tspan x="2.5" dy="4.3">couple of</tspan><tspan x="2.5" dy="4.3">hours.</tspan></text></g>
<g id="y2013a" transform="translate(2013 150)"><rect class="y" width="30" height="30"/><text class="t"><tspan x="2.5" y="6">U1-28</tspan><tspan x="2.5" dy="4.3">I don't want to</tspan><tspan x="2.5" dy="4.3">spend much time</tspan><tspan x="2.5" dy="4.3">on the</tspan><tspan x="2.5" dy="4.3">labels.</tspan></text></g>
<g id="y2013b" transform="translate(2013 187)"><rect class="y" width="30" height="30"/><text class="t"><tspan x="2.5" y="6">U4-30</tspan><tspan x="2.5" dy="4.3">I don't want to</tspan><tspan x="2.5" dy="4.3">miss the other</tspan><tspan x="2.5" dy="4.3">artworks in</tspan><tspan x="2.5" dy="4.3">the museum.</tspan></text></g>
<g id="y2013c" transform="translate(2013 224)"><rect class="y" width="30" height="30"/><text class="t"><tspan x="2.5" y="6">U2-33</tspan><tspan x="2.5" dy="4.3">I usually have</tspan><tspan x="2.5" dy="4.3">to follow my</tspan><tspan x="2.5" dy="4.3">friends'</tspan><tspan x="2.5" dy="4.3">schedule.</tspan></text></g>
<g id="y2047a" transform="translate(2047 150)"><rect class="y" width="30" height="30"/><text class="t"><tspan x="2.5" y="6">U5-29</tspan><tspan x="2.5" dy="4.3">Sometimes it</tspan><tspan x="2.5" dy="4.3">takes too long</tspan><tspan x="2.5" dy="4.3">to find the</tspan><tspan x="2.5" dy="4.3">information.</tspan></text></g>
<g id="y2047b" transform="translate(2047 188)"><rect class="y" width="30" height="30"/><text font-size="4"><tspan x="2.5" y="6">U6-29</tspan><tspan x="2.5" dy="5">I would wait for</tspan><tspan x="2.5" dy="5">my friends to</tspan><tspan x="2.5" dy="5">finish looking</tspan><tspan x="2.5" dy="5">at the art.</tspan></text></g>
<g id="y2047c" transform="translate(2047 225)"><rect class="y" width="30" height="30"/><text class="t"><tspan x="2.5" y="6">U3-32</tspan><tspan x="2.5" dy="4.3">When the</tspan><tspan x="2.5" dy="4.3">museum is</tspan><tspan x="2.5" dy="4.3">crowded I</tspan><tspan x="2.5" dy="4.3">can't stay.</tspan></text></g>
<g id="y2047d" transform="translate(2047 260)"><rect class="y" width="30" height="30"/><text class="t"><tspan x="2.5" y="6">U1-29</tspan><tspan x="2.5" dy="4.3">I would visit</tspan><tspan x="2.5" dy="4.3">on weekdays</tspan><tspan x="2.5" dy="4.3">when there are</tspan><tspan x="2.5" dy="4.3">fewer people.</tspan></text></g>
<g id="y2093a" transform="translate(2093 150)"><rect class="y" width="30" height="30"/><text font-size="4"><tspan x="2.5" y="6">U4-32</tspan><tspan x="2.5" dy="5">I can't see the</tspan><tspan x="2.5" dy="5">artwork when</tspan><tspan x="2.5" dy="5">there are too</tspan><tspan x="2.5" dy="5">many people.</tspan></text></g>
<g id="y2093b" transform="translate(2093 188)"><rect class="y" width="30" height="30"/><text class="t"><tspan x="2.5" y="6">U2-34</tspan><tspan x="2.5" dy="4.3">It's hard to</tspan><tspan x="2.5" dy="4.3">read the labels</tspan><tspan x="2.5" dy="4.3">in a crowded</tspan><tspan x="2.5" dy="4.3">room.</tspan></text></g>
<g id="y2093c" transform="translate(2093 224)"><rect class="y" width="30" height="30"/><text class="t"><tspan x="2.5" y="6">U5-30</tspan><tspan x="2.5" dy="4.3">I don't like</tspan><tspan x="2.5" dy="4.3">noisy places</tspan><tspan x="2.5" dy="4.3">like crowded</tspan><tspan x="2.5" dy="4.3">museums.</tspan></text></g>
<g id="y2139a" transform="translate(2139 150)"><rect class="y" width="30" height="30"/><text class="t"><tspan x="2.5" y="6">U6-30</tspan><tspan x="2.5" dy="4.3">I don't want to</tspan><tspan x="2.5" dy="4.3">pay for an</tspan><tspan x="2.5" dy="4.3">audio guide.</tspan></text></g>
<g id="y2139b" transform="translate(2139 187)"><rect class="y" width="30" height="30"/><text font-size="4"><tspan x="2.5" y="6">U3-33</tspan><tspan x="2.5" dy="5">The audio guide</tspan><tspan x="2.5" dy="5">is too</tspan><tspan x="2.5" dy="5">expensive.</tspan></text></g>
<g id="y2184a" transform="translate(2184 150)"><rect class="y" width="31" height="30"/><text class="t"><tspan x="2.5" y="6">U1-30</tspan><tspan x="2.5" dy="4.3">I don't understand</tspan><tspan x="2.5" dy="4.3">the labels</tspan><tspan x="2.5" dy="4.3">in a foreign</tspan><tspan x="2.5" dy="4.3">language.</tspan></text></g>
<g id="y2226a" transform="translate(2226 151)"><rect class="y" width="30" height="30"/><text class="t"><tspan x="2.5" y="6">U4-33</tspan><tspan x="2.5" dy="4.3">My phone is too</tspan><tspan x="2.5" dy="4.3">small to read</tspan><tspan x="2.5" dy="4.3">a lot of</tspan><tspan x="2.5" dy="4.3">text.</tspan></text></g>
<g id="y2226b" transform="translate(2226 187)"><rect class="y" width="30" height="30"/><text class="t"><tspan x="2.5" y="6">U2-35</tspan><tspan x="2.5" dy="4.3">It's tiring to</tspan><tspan x="2.5" dy="4.3">hold my phone</tspan><tspan x="2.5" dy="4.3">during the</tspan><tspan x="2.5" dy="4.3">whole visit.</tspan></text></g>
<g id="y2226c" transform="translate(2226 223)"><rect class="y" width="30" height="30"/><text class="t"><tspan x="2.5" y="6">U5-31</tspan><tspan x="2.5" dy="4.3">Devices are</tspan><tspan x="2.5" dy="4.3">heavy to carry</tspan><tspan x="2.5" dy="4.3">around in the</tspan><tspan x="2.5" dy="4.3">museum.</tspan></text></g>
<g id="y2226d" transform="translate(2226 258)"><rect class="y" width="30" height="30"/><text class="t"><tspan x="2.5" y="6">U6-31</tspan><tspan x="2.5" dy="4.3">My phone's</tspan><tspan x="2.5" dy="4.3">battery may run</tspan><tspan x="2.5" dy="4.3">out during</tspan><tspan x="2.5" dy="4.3">the visit.</tspan></text></g>
<g id="y2226e" transform="translate(2226 295)"><rect class="y" width="30" height="30"/><text font-size="4"><tspan x="2.5" y="6">U3-34</tspan><tspan x="2.5" dy="5">I don't want</tspan><tspan x="2.5" dy="5">to download</tspan><tspan x="2.5" dy="5">another</tspan><tspan x="2.5" dy="5">app.</tspan></text></g>
<g id="y2270a" transform="translate(2270 149)"><rect class="y" width="30" height="30"/><text class="t"><tspan x="2.5" y="6">U1-31</tspan><tspan x="2.5" dy="4.3">I would forget</tspan><tspan x="2.5" dy="4.3">to look at</tspan><tspan x="2.5" dy="4.3">the app while</tspan><tspan x="2.5" dy="4.3">visiting.</tspan></text></g>
<g id="y2270b" transform="translate(2270 186)"><rect class="y" width="30" height="30"/><text class="t"><tspan x="2.5" y="6">U4-34</tspan><tspan x="2.5" dy="4.3">The artwork</tspan><tspan x="2.5" dy="4.3">is more</tspan><tspan x="2.5" dy="4.3">important</tspan><tspan x="2.5" dy="4.3">than the app.</tspan></text></g>
<g id="y2270c" transform="translate(2270 223)"><rect class="y" width="30" height="30"/><text class="t"><tspan x="2.5" y="6">U2-36</tspan><tspan x="2.5" dy="4.3">I would focus</tspan><tspan x="2.5" dy="4.3">on the artwork</tspan><tspan x="2.5" dy="4.3">instead of my</tspan><tspan x="2.5" dy="4.3">phone.</tspan></text></g>
<g id="y2270d" transform="translate(2270 260)"><rect class="y" width="30" height="30"/><text font-size="4"><tspan x="2.5" y="6">U5-32</tspan><tspan x="2.5" dy="5">There might be</tspan><tspan x="2.5" dy="5">a large crowd</tspan><tspan x="2.5" dy="5">near the</tspan><tspan x="2.5" dy="5">famous artwork.</tspan></text></g>
<g id="y2270e" transform="translate(2270 297)"><rect class="y" width="30" height="30"/><text class="t"><tspan x="2.5" y="6">U6-32</tspan><tspan x="2.5" dy="4.3">Some artworks</tspan><tspan x="2.5" dy="4.3">draw all the</tspan><tspan x="2.5" dy="4.3">attention.</tspan></text></g>
<g id="y2270f" transform="translate(2270 334)"><rect class="y" width="30" height="30"/><text class="t"><tspan x="2.5" y="6">U3-35</tspan><tspan x="2.5" dy="4.3">I pay less</tspan><tspan x="2.5" dy="4.3">attention to</tspan><tspan x="2.5" dy="4.3">the smaller</tspan><tspan x="2.5" dy="4.3">artworks.</tspan></text></g>
</svg>
